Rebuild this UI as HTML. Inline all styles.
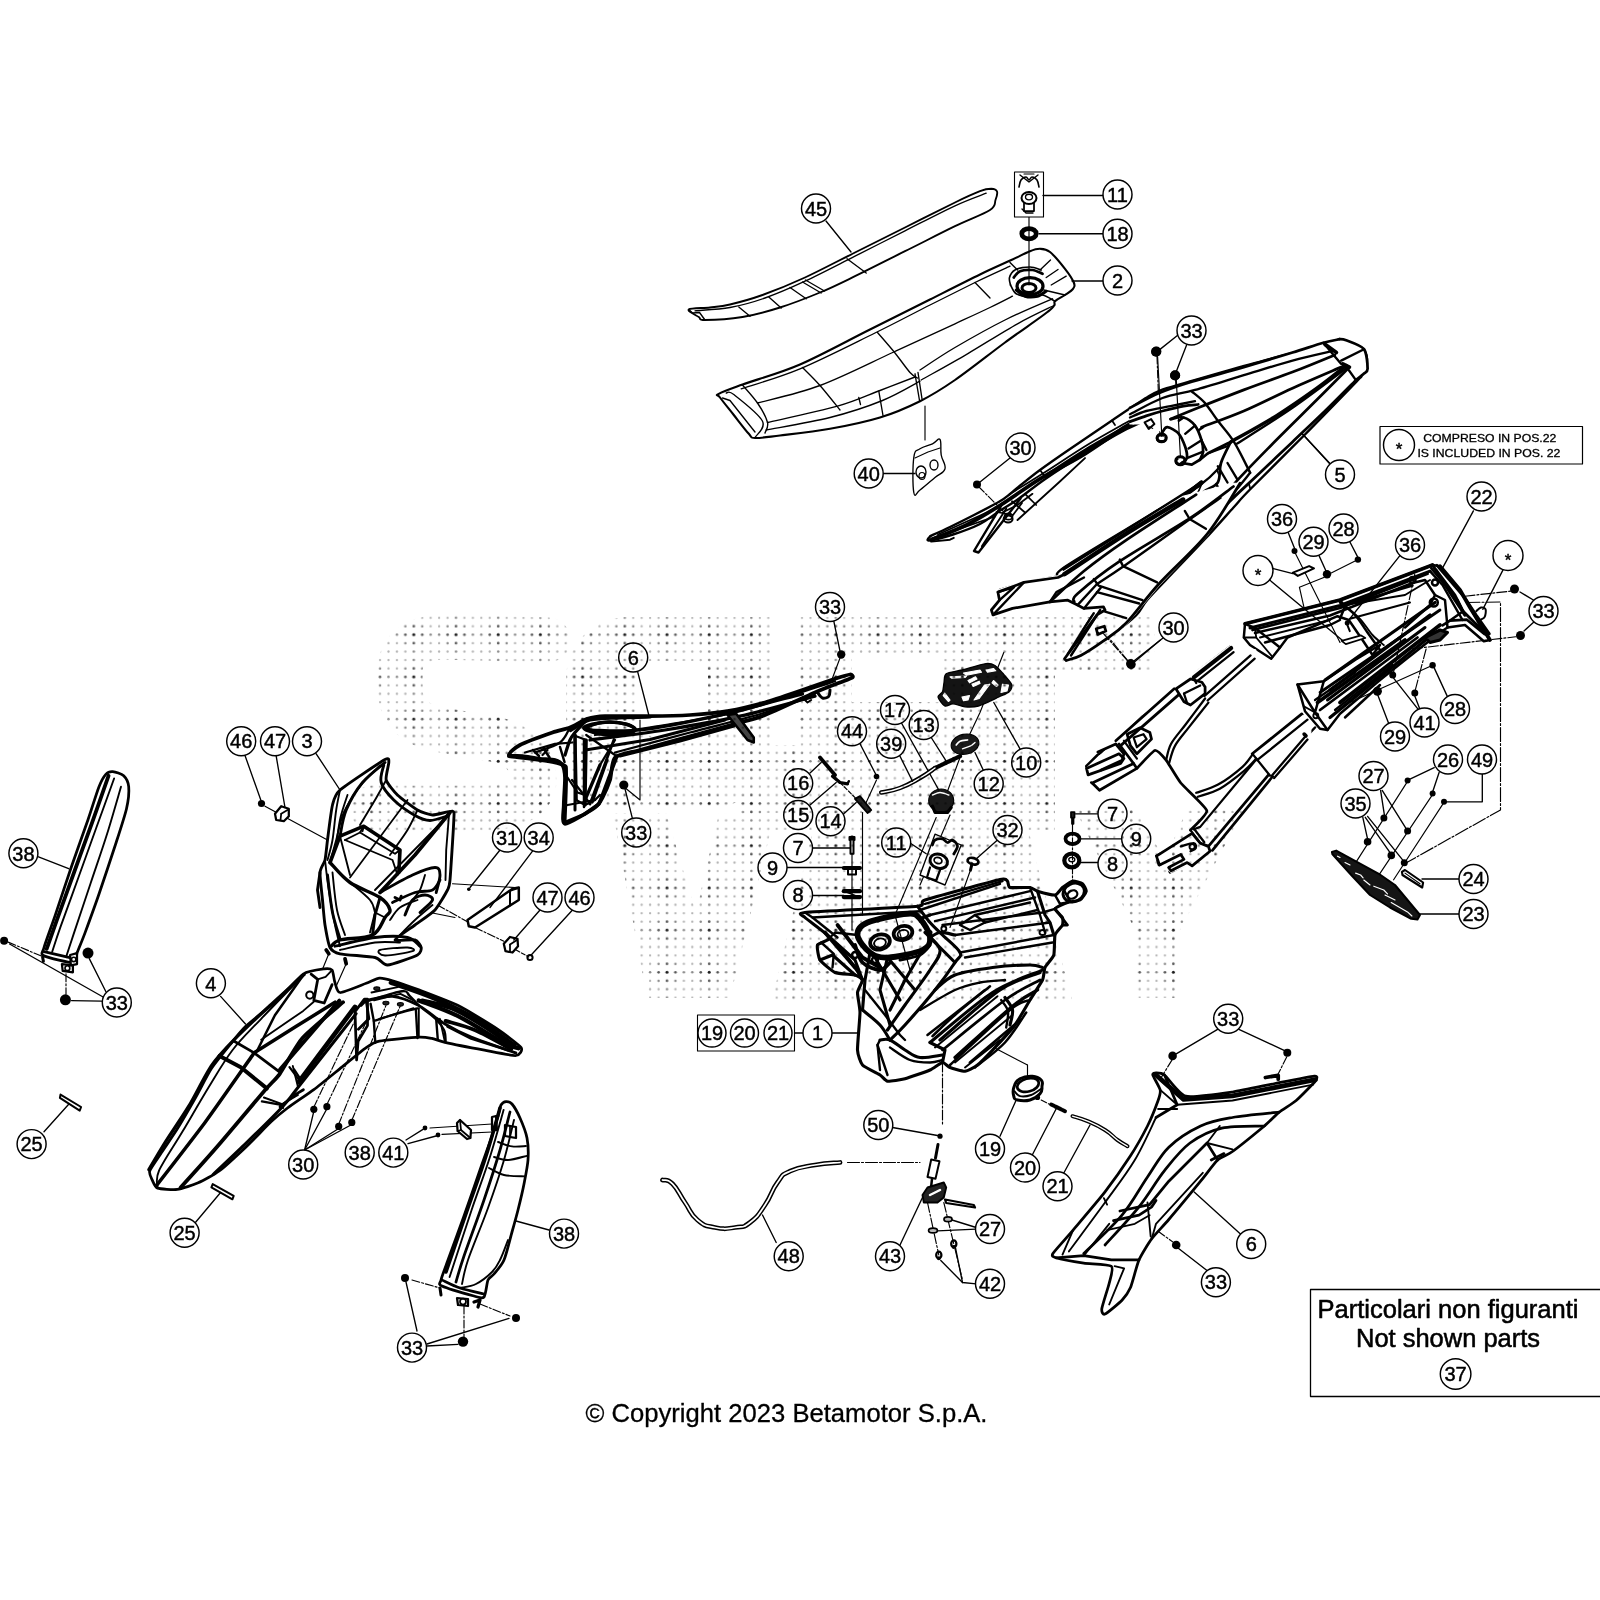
<!DOCTYPE html>
<html><head><meta charset="utf-8"><title>Parts diagram</title>
<style>html,body{margin:0;padding:0;background:#fff}body{width:1600px;height:1600px;overflow:hidden}</style></head>
<body>
<svg width="1600" height="1600" viewBox="0 0 1600 1600" style="display:block">
<g stroke-linecap="round" stroke-linejoin="round">
<defs><pattern id="dots" x="409.58" y="630.48" width="42.20" height="42.20" patternUnits="userSpaceOnUse"><circle cx="4.22" cy="4.22" r="1.5" fill="#1c1c1c"/><circle cx="4.22" cy="12.66" r="1.35" fill="#5a5a5a"/><circle cx="4.22" cy="21.10" r="1.25" fill="#8a8a8a"/><circle cx="4.22" cy="29.54" r="1.25" fill="#8a8a8a"/><circle cx="4.22" cy="37.98" r="1.35" fill="#5a5a5a"/><circle cx="12.66" cy="4.22" r="1.35" fill="#5a5a5a"/><circle cx="12.66" cy="12.66" r="1.25" fill="#8a8a8a"/><circle cx="12.66" cy="21.10" r="1.15" fill="#b4b4b4"/><circle cx="12.66" cy="29.54" r="1.15" fill="#b4b4b4"/><circle cx="12.66" cy="37.98" r="1.25" fill="#8a8a8a"/><circle cx="21.10" cy="4.22" r="1.25" fill="#8a8a8a"/><circle cx="21.10" cy="12.66" r="1.15" fill="#b4b4b4"/><circle cx="21.10" cy="21.10" r="1.15" fill="#b4b4b4"/><circle cx="21.10" cy="29.54" r="1.15" fill="#b4b4b4"/><circle cx="21.10" cy="37.98" r="1.15" fill="#b4b4b4"/><circle cx="29.54" cy="4.22" r="1.25" fill="#8a8a8a"/><circle cx="29.54" cy="12.66" r="1.15" fill="#b4b4b4"/><circle cx="29.54" cy="21.10" r="1.15" fill="#b4b4b4"/><circle cx="29.54" cy="29.54" r="1.15" fill="#b4b4b4"/><circle cx="29.54" cy="37.98" r="1.15" fill="#b4b4b4"/><circle cx="37.98" cy="4.22" r="1.35" fill="#5a5a5a"/><circle cx="37.98" cy="12.66" r="1.25" fill="#8a8a8a"/><circle cx="37.98" cy="21.10" r="1.15" fill="#b4b4b4"/><circle cx="37.98" cy="29.54" r="1.15" fill="#b4b4b4"/><circle cx="37.98" cy="37.98" r="1.25" fill="#8a8a8a"/></pattern>
<mask id="wm" maskUnits="userSpaceOnUse" x="340" y="590" width="960" height="480"><rect x="340" y="590" width="960" height="480" fill="#000"/><path d="M548 640 L440 637 Q400 640 400 672 L400 690 Q402 724 442 730 L498 740 Q534 750 534 782 Q530 808 480 808 L372 808" fill="none" stroke="#fff" stroke-width="45" stroke-linejoin="round"/><rect x="566" y="617" width="204" height="192" rx="62" ry="62" fill="#fff"/><rect x="700" y="617" width="70" height="120" fill="#fff"/><rect x="638" y="661" width="70" height="75" rx="14" fill="#000"/><polygon fill="#fff" points="613,813 666,813 696,913 719,813 775,813 730,998 647,998"/><polygon fill="#fff" points="800,617 1055,617 1055,830 800,830"/><polygon fill="#000" points="852,653 942,653 942,702 852,702"/><polygon fill="#fff" points="1055,617 1155,617 1155,671 1055,671"/><polygon fill="#fff" points="740,745 800,745 800,830 740,830"/><polygon fill="#fff" points="817,813 1024,813 1072,1000 772,1000"/><polygon fill="#fff" points="1075,809 1135,809 1165,860 1187,809 1244,809 1180,930 1180,998 1135,998 1135,930"/></mask></defs>
<path d="M688.8 309.5 C690.7 307.9 703.1 308.3 710 307.5 C716.9 306.7 721.2 306.6 730 304.5 C738.8 302.4 750.0 299.5 762.5 295 C775.0 290.5 789.6 284.6 805 277.5 C820.4 270.4 838.3 260.8 855 252.5 C871.7 244.2 888.3 235.8 905 227.5 C921.7 219.2 942.5 208.6 955 202.5 C967.5 196.4 974.0 193.5 980 191.2 C986.0 188.9 988.4 188.8 991.2 188.8 C994.0 188.9 996.3 189.6 997 191.5 C997.7 193.4 996.7 196.9 995.5 200 C994.3 203.1 996.8 205.6 990 210 C983.2 214.4 969.2 219.3 955 226.2 C940.8 233.1 921.7 242.9 905 251.2 C888.3 259.5 869.2 269.3 855 276.2 C840.8 283.1 832.5 287.3 820 292.5 C807.5 297.7 792.9 303.4 780 307.5 C767.1 311.6 755.0 314.9 742.5 317 C730.0 319.1 712.3 320.0 705 320 C697.7 320.0 701.5 318.8 698.8 317 C696.1 315.2 686.9 311.1 688.8 309.5 Z" fill="#fff" stroke="#000" stroke-width="1.88" />
<path d="M695 310.8 C700.8 310.2 718.3 309.6 730 307.5 C741.7 305.4 752.5 302.4 765 298 C777.5 293.6 790.0 288.2 805 281.2 C820.0 274.2 838.3 264.6 855 256.2 C871.7 247.8 888.3 239.2 905 230.8 C921.7 222.4 941.5 212.1 955 205.8 C968.5 199.5 981.0 195.3 986.2 193.2" fill="none" stroke="#000" stroke-width="1.35" />
<path d="M847 258.8 L866.2 273" fill="none" stroke="#000" stroke-width="1.35" />
<path d="M802.5 282 L821.2 293" fill="none" stroke="#000" stroke-width="1.35" />
<path d="M805.5 280 L824.5 291" fill="none" stroke="#000" stroke-width="1.35" />
<path d="M790 287.5 L806.2 298.8" fill="none" stroke="#000" stroke-width="1.35" />
<path d="M768.8 297 L781.2 308" fill="none" stroke="#000" stroke-width="1.35" />
<path d="M738.8 307 L750 316.2" fill="none" stroke="#000" stroke-width="1.35" />
<path d="M688.8 309.5 L692.5 313 L699.5 312.5 L705 320" fill="none" stroke="#000" stroke-width="1.35" />
<path d="M718.8 393.8 C722.5 391.6 729.0 389.4 742.5 384.5 C756.0 379.6 778.8 373.7 800 364.5 C821.2 355.3 848.3 340.3 870 329.5 C891.7 318.7 911.7 308.7 930 299.5 C948.3 290.3 966.2 281.2 980 274.5 C993.8 267.8 1004.2 263.4 1012.5 259.5 C1020.8 255.6 1025.4 253.0 1030 251.2 C1034.6 249.4 1036.7 248.7 1040 248.8 C1043.3 248.9 1045.8 248.7 1050 252 C1054.2 255.3 1061.0 263.7 1065 268.8 C1069.0 273.9 1072.5 279.2 1073.8 282.5 C1075.1 285.8 1074.5 286.7 1073 288.8 C1071.5 290.9 1068.0 292.9 1065 295 C1062.0 297.1 1057.5 298.7 1055 301.2 C1052.5 303.7 1058.3 303.1 1050 310 C1041.7 316.9 1020.8 330.8 1005 342.5 C989.2 354.2 969.2 370.2 955 380 C940.8 389.8 932.5 394.9 920 401.2 C907.5 407.4 895.0 412.9 880 417.5 C865.0 422.1 846.7 425.8 830 428.8 C813.3 431.8 792.5 434.0 780 435.5 C767.5 437.0 760.2 438.3 755 438 C749.8 437.7 752.3 437.6 748.8 433.8 C745.3 430.0 738.6 421.1 733.8 415 C729.0 408.9 722.5 401.0 720 397.5 C717.5 394.0 715.0 396.0 718.8 393.8 Z" fill="#fff" stroke="#000" stroke-width="2.12" />
<path d="M741.2 388.8 C751.0 385.5 777.7 378.1 800 368.8 C822.3 359.5 853.3 343.6 875 333 C896.7 322.4 913.3 313.4 930 305 C946.7 296.6 961.7 289.0 975 282.5 C988.3 276.0 1004.2 268.9 1010 266.2" fill="none" stroke="#000" stroke-width="1.35" />
<path d="M757.5 403 C767.9 400.1 797.3 394.0 820 385.5 C842.7 377.0 871.3 362.3 893.8 352 C916.3 341.7 939.0 331.2 955 323.8 C971.0 316.4 980.4 312.1 990 307.5 C999.6 302.9 1008.8 298.1 1012.5 296.2" fill="none" stroke="#000" stroke-width="1.35" />
<path d="M767.5 422.5 C779.2 419.8 818.8 411.5 837.5 406.2 C856.2 400.9 867.1 395.4 880 390.5 C892.9 385.6 909.2 379.2 915 377" fill="none" stroke="#000" stroke-width="1.35" />
<path d="M766.2 430 C776.8 427.9 810.6 422.4 830 417.5 C849.4 412.6 867.5 406.6 882.5 400.5 C897.5 394.4 913.8 384.4 920 381.2" fill="none" stroke="#000" stroke-width="1.35" />
<path d="M920 370 C925.8 366.2 940.8 355.8 955 347.5 C969.2 339.2 988.8 328.1 1005 320 C1021.2 311.9 1044.6 302.3 1052.5 298.8" fill="none" stroke="#000" stroke-width="1.35" />
<path d="M921.2 380 C928.9 375.6 951.5 363.2 967.5 353.8 C983.5 344.4 1002.9 331.9 1017.5 323.8 C1032.1 315.7 1048.8 308.1 1055 305" fill="none" stroke="#000" stroke-width="1.35" />
<path d="M877.5 332.5 C880.4 335.9 889.6 346.3 895 353 C900.4 359.7 906.2 368.3 910 372.5 C913.8 376.7 916.2 377.1 917.5 378" fill="none" stroke="#000" stroke-width="1.35" />
<path d="M802.5 367.5 C805.4 370.5 813.8 378.4 820 385.5 C826.2 392.6 836.7 405.9 840 410" fill="none" stroke="#000" stroke-width="1.35" />
<path d="M975 282.5 L990 298" fill="none" stroke="#000" stroke-width="1.35" />
<path d="M878.8 391.2 L883 415.5" fill="none" stroke="#000" stroke-width="1.35" />
<path d="M858.8 397.5 L860.5 404.5" fill="none" stroke="#000" stroke-width="1.35" />
<path d="M915 373.8 L919.5 400.5" fill="none" stroke="#000" stroke-width="1.35" />
<path d="M918 372.5 L922 398.8" fill="none" stroke="#000" stroke-width="1.35" />
<path d="M742.5 385 C745.0 388.0 753.3 396.8 757.5 403 C761.7 409.2 766.2 417.5 767.5 422.5 C768.8 427.5 765.4 431.2 765 433" fill="none" stroke="#000" stroke-width="1.35" />
<path d="M726.2 393 C727.5 393.2 727.8 389.8 733.8 394.5 C739.8 399.2 759.0 414.0 762.5 421.2 C766.0 428.4 756.2 434.8 755 437.5" fill="none" stroke="#000" stroke-width="1.35" />
<path d="M722.5 398 L730 400.5 L755 432" fill="none" stroke="#000" stroke-width="1.35" />
<path d="M1010.5 285 C1010.3 283.8 1008.8 280.0 1009.5 277.5 C1010.2 275.0 1011.6 271.8 1015 270 C1018.4 268.2 1025.6 267.0 1030 267 C1034.4 267.0 1039.3 269.5 1041.2 270" fill="none" stroke="#000" stroke-width="1.62" />
<path d="M1010.5 285 C1011.5 286.5 1013.0 291.8 1016.2 293.8 C1019.5 295.8 1025.6 296.8 1030 297 C1034.4 297.2 1038.3 294.3 1042.5 295 C1046.7 295.7 1052.9 300.2 1055 301.2" fill="none" stroke="#000" stroke-width="1.62" />
<ellipse cx="1030.0" cy="286.2" rx="13" ry="8.5" fill="none" stroke="#000" stroke-width="3.25"/>
<path d="M1013.8 277.5 C1014.8 276.4 1016.9 272.4 1020 271.2 C1023.1 269.9 1028.8 269.6 1032.5 270 C1036.2 270.4 1040.8 273.2 1042.5 273.8" fill="none" stroke="#000" stroke-width="2.75" />
<path d="M1016.2 290 C1017.7 291.0 1021.5 295.2 1025 296.2 C1028.5 297.2 1034.0 297.0 1037.5 296.2 C1041.0 295.4 1044.8 292.0 1046.2 291.2" fill="none" stroke="#000" stroke-width="3.0" />
<ellipse cx="1029.0" cy="288.0" rx="7" ry="4.5" fill="none" stroke="#000" stroke-width="3.0"/>
<path d="M1040 270 L1050.5 260" fill="none" stroke="#000" stroke-width="1.35" />
<path d="M1046.2 277.5 L1058 269.5" fill="none" stroke="#000" stroke-width="1.35" />
<path d="M1051.2 285 L1066.2 276.2" fill="none" stroke="#000" stroke-width="1.35" />
<path d="M1043.8 290 L1065 295" fill="none" stroke="#000" stroke-width="1.35" />
<path d="M1017.5 270 L1010 262.5" fill="none" stroke="#000" stroke-width="1.35" />
<line x1="1029" y1="217" x2="1029" y2="285" stroke="#000" stroke-width="1.15"/>
<rect x="1014.5" y="172" width="29" height="45" fill="#fff" stroke="#000" stroke-width="1.1"/>
<path d="M1019 187 C1019.3 185.8 1019.8 181.7 1021 180 C1022.2 178.3 1024.7 177.0 1026 177 C1027.3 177.0 1028.0 180.0 1029 180 C1030.0 180.0 1030.7 177.0 1032 177 C1033.3 177.0 1035.8 178.3 1037 180 C1038.2 181.7 1038.7 185.8 1039 187" fill="none" stroke="#000" stroke-width="1.62" />
<path d="M1020 175 L1029 182 L1038 175" fill="none" stroke="#000" stroke-width="1.35" />
<path d="M1024 174 L1034 174" fill="none" stroke="#000" stroke-width="1.15" />
<ellipse cx="1029" cy="198" rx="7.5" ry="6" fill="none" stroke="#000" stroke-width="2.0"/>
<ellipse cx="1029" cy="197" rx="3.5" ry="2.8" fill="none" stroke="#000" stroke-width="1.35"/>
<path d="M1024 203 L1024 211 L1034 211 L1034 203" fill="none" stroke="#000" stroke-width="1.75" />
<path d="M1022 209 L1026 213 L1033 213" fill="none" stroke="#000" stroke-width="1.35" />
<ellipse cx="1029" cy="233.7" rx="7.2" ry="5.2" fill="none" stroke="#000" stroke-width="4.75"/>
<line x1="1043" y1="195.5" x2="1103" y2="195.5" stroke="#000" stroke-width="1.35"/>
<line x1="1039" y1="233.7" x2="1103" y2="233.7" stroke="#000" stroke-width="1.35"/>
<line x1="1072" y1="281" x2="1103" y2="281" stroke="#000" stroke-width="1.35"/>
<line x1="826" y1="221" x2="851" y2="252" stroke="#000" stroke-width="1.35"/>
<line x1="925" y1="406" x2="925" y2="440" stroke="#000" stroke-width="1.15"/>
<path d="M913.8 457.5 C915.0 448.8 916.3 451.5 920 448.8 C923.7 446.1 928.5 445.7 932.5 443.8 C936.5 441.9 938.3 437.3 940 439.5 C941.7 441.7 940.2 449.1 941.2 455 C942.2 460.9 946.2 464.3 945 468.8 C943.8 473.3 940.0 473.3 935 477.5 C930.0 481.7 924.2 487.0 920 490 C915.8 493.0 915.0 499.0 913.8 492.5 C912.6 486.0 912.6 466.2 913.8 457.5 Z" fill="#fff" stroke="#000" stroke-width="1.35" />
<ellipse cx="921" cy="472" rx="5" ry="6" fill="none" stroke="#000" stroke-width="1.35"/>
<ellipse cx="934" cy="465" rx="4" ry="5" fill="none" stroke="#000" stroke-width="1.35"/>
<ellipse cx="922" cy="476" rx="3" ry="3.5" fill="none" stroke="#000" stroke-width="1.15"/>
<path d="M915 458 L928 452 L940 448" fill="none" stroke="#000" stroke-width="1.15" />
<line x1="883.5" y1="473.5" x2="915" y2="473.5" stroke="#000" stroke-width="1.35"/>
<path d="M1325 344.6 C1327.7 343.6 1334.0 340.4 1338.5 339.8 C1343.0 339.2 1342.5 339.7 1347.5 341.6 C1352.5 343.5 1359.5 345.0 1363.4 349.4 C1367.3 353.8 1367.5 358.0 1367 363.5 C1366.5 369.0 1362.2 374.3 1361 377" fill="none" stroke="#000" stroke-width="2.38" />
<path d="M1325 344.6 L1335.5 351.5 L1346 365 L1352 377.6" fill="none" stroke="#000" stroke-width="1.75" />
<path d="M1335.5 351.5 L1363.4 349.4" fill="none" stroke="#000" stroke-width="1.75" />
<path d="M1346 365 L1366.4 362" fill="none" stroke="#000" stroke-width="1.75" />
<path d="M1325 344.6 C1312.5 347.9 1272.5 358.2 1250 364.4 C1227.5 370.5 1205.0 377.1 1190 381.5 C1175.0 385.9 1167.5 387.6 1160 390.5 C1152.5 393.4 1153.0 393.6 1145 398.6 C1137.0 403.6 1124.5 412.1 1112 420.5 C1099.5 428.9 1082.0 440.8 1070 449 C1058.0 457.2 1048.5 463.8 1040 470 C1031.5 476.2 1024.0 482.5 1019 486.5 C1014.0 490.5 1013.2 491.5 1010 494 C1006.8 496.5 1005.5 498.0 999.5 501.5 C993.5 505.0 982.2 510.8 974 515 C965.8 519.2 957.2 523.5 950 527 C942.8 530.5 933.8 534.5 930.5 536" fill="none" stroke="#000" stroke-width="2.38" />
<path d="M1328 350 C1315.0 353.5 1273.0 364.6 1250 371 C1227.0 377.4 1205.0 383.9 1190 388.4 C1175.0 392.9 1167.8 394.9 1160 398 C1152.2 401.1 1146.2 405.5 1143.5 407" fill="none" stroke="#000" stroke-width="1.75" />
<path d="M1337 359 C1325.0 363.2 1284.5 377.5 1265 384.5 C1245.5 391.5 1231.0 396.8 1220 401 C1209.0 405.2 1202.5 408.5 1199 410" fill="none" stroke="#000" stroke-width="1.75" />
<path d="M1340 365 C1330.0 369.5 1298.0 383.5 1280 392 C1262.0 400.5 1244.5 409.9 1232 416 C1219.5 422.1 1209.5 426.5 1205 428.6" fill="none" stroke="#000" stroke-width="1.75" />
<path d="M930.5 536 C930.2 536.8 925.2 540.8 929 540.5 C932.8 540.2 944.5 537.2 953 534.5 C961.5 531.8 972.5 527.8 980 524 C987.5 520.2 991.5 516.2 998 512 C1004.5 507.8 1011.0 504.1 1019 498.5 C1027.0 492.9 1034.5 486.2 1046 478.4 C1057.5 470.5 1075.0 459.4 1088 451.4 C1101.0 443.4 1114.0 435.8 1124 430.4 C1134.0 425.0 1142.0 422.4 1148 419 C1154.0 415.6 1154.0 412.0 1160 410 C1166.0 408.0 1180.0 407.5 1184 407" fill="none" stroke="#000" stroke-width="2.38" />
<path d="M1046 476 C1053.0 471.5 1074.0 457.5 1088 449 C1102.0 440.5 1123.0 429.0 1130 425" fill="none" stroke="#000" stroke-width="4.0" />
<path d="M1010 494 C1016.0 490.2 1033.0 479.8 1046 471.5 C1059.0 463.2 1074.0 453.0 1088 444.5 C1102.0 436.0 1120.0 426.2 1130 420.5 C1140.0 414.8 1145.0 411.8 1148 410" fill="none" stroke="#000" stroke-width="1.75" />
<path d="M1002.5 503.6 L974 551 L978.5 552.5 L1020.5 498.5" fill="none" stroke="#000" stroke-width="2.38" />
<path d="M932 538.4 L995 516.5" fill="none" stroke="#000" stroke-width="1.75" />
<path d="M938 534.5 L998 507.5" fill="none" stroke="#000" stroke-width="1.75" />
<ellipse cx="1008.5" cy="516.5" rx="4" ry="3.2" fill="none" stroke="#000" stroke-width="1.75"/>
<path d="M996.5 512 L1013 515 L1022 503" fill="none" stroke="#000" stroke-width="1.75" />
<path d="M1145 398.6 L1160 410" fill="none" stroke="#000" stroke-width="1.75" />
<path d="M1112 420.5 L1115 425" fill="none" stroke="#000" stroke-width="1.75" />
<path d="M1040 470 L1044.5 476" fill="none" stroke="#000" stroke-width="1.75" />
<path d="M1208 377 L1223 402.5" fill="none" stroke="#000" stroke-width="1.75" />
<path d="M1190 381.5 L1244 452" fill="none" stroke="#000" stroke-width="1.75" />
<path d="M1161.5 435.5 C1162.0 434.0 1162.2 429.0 1164.5 426.5 C1166.8 424.0 1171.5 420.8 1175 420.5 C1178.5 420.2 1183.0 421.8 1185.5 425 C1188.0 428.2 1189.5 435.0 1190 440 C1190.5 445.0 1190.0 451.1 1188.5 455 C1187.0 458.9 1182.2 462.0 1181 463.4" fill="none" stroke="#000" stroke-width="2.38" />
<path d="M1175 416 C1177.5 415.6 1185.5 412.4 1190 413.6 C1194.5 414.9 1199.2 419.1 1202 423.5 C1204.8 427.9 1206.2 434.8 1206.5 440 C1206.8 445.2 1204.0 452.5 1203.5 455" fill="none" stroke="#000" stroke-width="2.38" />
<path d="M1167.5 432.5 C1168.8 431.5 1172.8 426.8 1175 426.5 C1177.2 426.2 1179.5 427.8 1181 431 C1182.5 434.2 1184.0 441.5 1184 446 C1184.0 450.5 1181.5 456.0 1181 458" fill="none" stroke="#000" stroke-width="1.75" />
<path d="M1203.5 455 L1232 444.5 L1233.5 440 L1220 419" fill="none" stroke="#000" stroke-width="2.38" />
<path d="M1190 413.6 L1217 407" fill="none" stroke="#000" stroke-width="1.75" />
<path d="M1181 463.4 L1203.5 455" fill="none" stroke="#000" stroke-width="1.75" />
<path d="M1148 420.5 L1152.5 428 L1148 425" fill="none" stroke="#000" stroke-width="1.75" />
<ellipse cx="1161.5" cy="438.5" rx="4.5" ry="3.5" fill="none" stroke="#000" stroke-width="2.5"/>
<ellipse cx="1180.4" cy="461.6" rx="4.5" ry="3.5" fill="none" stroke="#000" stroke-width="2.5"/>
<path d="M1361 377 C1351.5 386.8 1322.5 416.8 1304 435.5 C1285.5 454.2 1261.8 477.5 1250 489.5 C1238.2 501.5 1241.0 499.2 1233.5 507.5 C1226.0 515.8 1214.8 528.5 1205 539 C1195.2 549.5 1184.5 560.5 1175 570.5 C1165.5 580.5 1154.5 591.5 1148 599 C1141.5 606.5 1141.5 610.0 1136 615.5 C1130.5 621.0 1123.0 626.8 1115 632 C1107.0 637.2 1096.5 642.5 1088 647 C1079.5 651.5 1068.0 657.0 1064 659" fill="none" stroke="#000" stroke-width="2.38" />
<path d="M1352 369.5 C1343.5 377.8 1319.0 402.2 1301 419 C1283.0 435.8 1257.5 457.0 1244 470 C1230.5 483.0 1227.0 490.0 1220 497 C1213.0 504.0 1208.0 506.5 1202 512 C1196.0 517.5 1187.0 527.0 1184 530" fill="none" stroke="#000" stroke-width="1.75" />
<path d="M1340 365 C1332.5 370.5 1312.0 385.5 1295 398 C1278.0 410.5 1248.5 431.5 1238 440 C1227.5 448.5 1234.5 445.5 1232 449 C1229.5 452.5 1225.5 457.5 1223 461 C1220.5 464.5 1220.5 466.2 1217 470 C1213.5 473.8 1209.0 478.5 1202 483.5 C1195.0 488.5 1187.0 492.8 1175 500 C1163.0 507.2 1148.5 515.8 1130 527 C1111.5 538.2 1076.0 559.2 1064 567.5 C1052.0 575.8 1059.0 575.0 1058 576.5" fill="none" stroke="#000" stroke-width="2.38" />
<path d="M1064 569 C1075.0 562.2 1107.5 542.5 1130 528.5 C1152.5 514.5 1187.5 492.2 1199 485" fill="none" stroke="#000" stroke-width="4.0" />
<path d="M1058 576.5 L1023.5 582.5 L999.5 590 L992 612.5 L1002.5 608.6 L1019 602 L1052 599 L1073 593 L1079 602 L1106 608 L1092.5 615.5 L1064 659 L1070 657.5 L1100 638 L1115 632" fill="none" stroke="#000" stroke-width="2.38" />
<path d="M999.5 590 L1007 599 L992 612.5" fill="none" stroke="#000" stroke-width="1.75" />
<path d="M1023.5 582.5 L1019 602" fill="none" stroke="#000" stroke-width="1.75" />
<path d="M1007 599 L1055 590 L1076 581 L1100 566" fill="none" stroke="#000" stroke-width="1.75" />
<path d="M1184 512 L1205 527" fill="none" stroke="#000" stroke-width="1.75" />
<path d="M1118 560 L1127 570.5" fill="none" stroke="#000" stroke-width="1.75" />
<path d="M1127 570.5 L1154 578" fill="none" stroke="#000" stroke-width="1.75" />
<path d="M1097 584 L1145 599" fill="none" stroke="#000" stroke-width="1.75" />
<path d="M1100 590 L1142 605" fill="none" stroke="#000" stroke-width="1.75" />
<path d="M1238 440 L1250 488" fill="none" stroke="#000" stroke-width="1.75" />
<path d="M1217 470 L1229 500" fill="none" stroke="#000" stroke-width="1.75" />
<path d="M1202 483.5 C1199.0 488.2 1198.0 499.2 1184 512 C1170.0 524.8 1132.5 548.0 1118 560 C1103.5 572.0 1104.0 578.2 1097 584 C1090.0 589.8 1079.5 592.8 1076 594.5" fill="none" stroke="#000" stroke-width="1.75" />
<path d="M1220 497 C1210.0 507.5 1175.0 543.0 1160 560 C1145.0 577.0 1139.0 591.0 1130 599 C1121.0 607.0 1110.0 606.5 1106 608" fill="none" stroke="#000" stroke-width="1.75" />
<ellipse cx="1103.0" cy="630.5" rx="4.5" ry="3.5" fill="none" stroke="#000" stroke-width="2.0" transform="rotate(-30 1103.0 630.5)"/>
<circle cx="1156.4" cy="351.5" r="5" fill="#000"/>
<circle cx="1175.0" cy="375.5" r="5" fill="#000"/>
<line x1="1157.0" y1="356.0" x2="1160.0" y2="435.5" stroke="#000" stroke-width="1.15" stroke-dasharray="8 2 2 2"/>
<line x1="1175.6" y1="380.0" x2="1180.4" y2="458.0" stroke="#000" stroke-width="1.15" stroke-dasharray="8 2 2 2"/>
<line x1="1178.0" y1="335.0" x2="1160.0" y2="349.4" stroke="#000" stroke-width="1.35"/>
<line x1="1187.0" y1="344.0" x2="1176.5" y2="371.0" stroke="#000" stroke-width="1.35"/>
<circle cx="977.0" cy="484.4" r="4" fill="#000"/>
<line x1="1010.0" y1="458.0" x2="980.0" y2="482.0" stroke="#000" stroke-width="1.35"/>
<line x1="978.5" y1="486.5" x2="1007.0" y2="515.0" stroke="#000" stroke-width="1.15" stroke-dasharray="8 2 2 2"/>
<circle cx="1130.6" cy="663.5" r="4.5" fill="#000"/>
<line x1="1163.0" y1="638.0" x2="1134.5" y2="660.5" stroke="#000" stroke-width="1.35"/>
<line x1="1104.5" y1="632.6" x2="1128.5" y2="661.4" stroke="#000" stroke-width="1.15" stroke-dasharray="8 2 2 2"/>
<line x1="1302.5" y1="434.0" x2="1330.4" y2="464.0" stroke="#000" stroke-width="1.35"/>
<path d="M931.2 539.7 C937.2 537.2 955.3 530.5 966.9 524.7 C978.5 518.9 988.4 512.6 1000.6 505 C1012.8 497.4 1026.6 486.9 1040 478.8 C1053.4 470.7 1066.8 465.0 1081.2 456.2 C1095.6 447.4 1115.6 432.8 1126.2 426.2 C1136.8 419.6 1141.9 418.4 1145 416.9" fill="none" stroke="#000" stroke-width="3.75" />
<path d="M1017.5 520 L1058.8 482.5 L1085 458.1" fill="none" stroke="#000" stroke-width="1.88" />
<path d="M1006.2 508.8 L981.9 546.2" fill="none" stroke="#000" stroke-width="1.88" />
<path d="M1011.9 501.2 L1025 512.5" fill="none" stroke="#000" stroke-width="1.75" />
<path d="M1025 493.8 L1036.2 505" fill="none" stroke="#000" stroke-width="1.75" />
<path d="M1002.5 512.5 L1017.5 505 L1032.5 493.8" fill="none" stroke="#000" stroke-width="1.75" />
<ellipse cx="1008.1" cy="519.1" rx="4.5" ry="3.5" fill="none" stroke="#000" stroke-width="2.0"/>
<path d="M931.2 541.6 L950 539.7 L953.8 537.8" fill="none" stroke="#000" stroke-width="1.88" />
<path d="M1062.5 575.3 C1070.0 570.6 1092.2 557.5 1107.5 547.2 C1122.8 536.9 1142.5 521.4 1154.4 513.4 C1166.3 505.4 1171.0 504.5 1178.8 499.4 C1186.6 494.2 1197.5 485.3 1201.2 482.5" fill="none" stroke="#000" stroke-width="3.75" />
<path d="M1130 407.8 L1159.2 393.1 L1191.8 381.8 L1243.8 367.1 L1292.5 352.5 L1323.4 342.8 L1339.6 339.2 L1346.1 340.3 L1364 349.2 L1367.6 368.8 L1364 373.6 L1355.9 380.1 L1325 411 L1292.5 441.9 L1260 472.8 L1227.5 503.6 L1214.5 520 L1146.2 520 L1183.6 510.1 L1203.1 492.2 L1217.8 482.5 L1221 463 L1230.8 441.9 L1208 453.2 L1199.9 459.8 L1191.8 464.6 L1182 463 L1172.2 450 L1162.5 432.1 L1146.2 424 L1130 424 Z" fill="#fff" stroke="#fff" stroke-width="1.15" />
<path d="M1130 407.8 C1134.9 405.4 1148.9 397.4 1159.2 393.1 C1169.5 388.8 1177.7 386.1 1191.8 381.8 C1205.9 377.5 1227.0 372.0 1243.8 367.1 C1260.6 362.2 1279.2 356.6 1292.5 352.5 C1305.8 348.4 1315.6 345.0 1323.4 342.8 C1331.2 340.6 1336.9 339.8 1339.6 339.2" fill="none" stroke="#000" stroke-width="2.75" />
<path d="M1339.6 339.2 C1340.5 339.3 1342.8 339.0 1346.1 340.3 C1349.4 341.6 1361.1 345.4 1364 349.2 C1366.9 353.0 1367.6 365.5 1367.6 368.8 C1367.6 372.1 1365.6 372.1 1364 373.6 C1362.4 375.1 1357.0 379.2 1355.9 380.1" fill="none" stroke="#000" stroke-width="2.75" />
<path d="M1130 414.2 C1135.4 411.5 1151.7 402.1 1162.5 398 C1173.3 393.9 1181.5 393.7 1195 389.9 C1208.5 386.1 1227.5 380.1 1243.8 375.2 C1260.0 370.3 1277.6 364.7 1292.5 360.6 C1307.4 356.6 1326.3 352.5 1333.1 350.9" fill="none" stroke="#000" stroke-width="2.38" />
<path d="M1191.8 391.5 C1194.0 393.4 1200.5 398.0 1204.8 402.9 C1209.1 407.8 1212.9 414.3 1217.8 420.8 C1222.7 427.3 1228.6 433.2 1234 441.9 C1239.4 450.6 1247.5 467.6 1250.2 472.8" fill="none" stroke="#000" stroke-width="2.38" />
<path d="M1170.6 419.1 C1175.2 417.2 1186.0 412.7 1198.2 407.8 C1210.4 402.9 1228.1 395.9 1243.8 389.9 C1259.5 383.9 1277.3 377.8 1292.5 372 C1307.7 366.2 1327.8 357.8 1334.8 354.9" fill="none" stroke="#000" stroke-width="2.75" />
<path d="M1201.5 427.2 C1208.5 424.5 1228.6 417.5 1243.8 411 C1259.0 404.5 1276.3 395.5 1292.5 388.2 C1308.7 380.9 1333.1 370.6 1341.2 367.1" fill="none" stroke="#000" stroke-width="2.75" />
<path d="M1230.8 441.9 C1238.4 437.6 1261.8 424.8 1276.2 415.9 C1290.6 406.9 1305.2 396.6 1316.9 388.2 C1328.6 379.8 1341.2 369.3 1346.1 365.5" fill="none" stroke="#000" stroke-width="3.5" />
<path d="M1237.2 443.5 C1246.4 437.6 1274.1 420.5 1292.5 407.8 C1310.9 395.1 1338.6 373.9 1347.8 367.1" fill="none" stroke="#000" stroke-width="2.38" />
<path d="M1355.9 380.1 C1350.8 385.2 1335.6 400.7 1325 411 C1314.4 421.3 1303.3 431.6 1292.5 441.9 C1281.7 452.2 1270.8 462.5 1260 472.8 C1249.2 483.1 1235.1 495.7 1227.5 503.6 C1219.9 511.5 1216.7 517.3 1214.5 520" fill="none" stroke="#000" stroke-width="2.75" />
<path d="M1347.8 368.8 C1341.3 375.3 1322.1 394.5 1308.8 407.8 C1295.5 421.1 1280.6 435.7 1268.1 448.4 C1255.6 461.1 1241.3 475.7 1234 484.1 C1226.7 492.5 1225.8 496.4 1224.2 498.8" fill="none" stroke="#000" stroke-width="2.75" />
<path d="M1323.4 342.8 L1331.5 352.5 L1341.2 363.9 L1347.8 368.8 L1355.9 380.1" fill="none" stroke="#000" stroke-width="2.38" />
<path d="M1341.2 360.6 L1364 349.2" fill="none" stroke="#000" stroke-width="2.38" />
<path d="M1325 344.4 L1336.4 352.5" fill="none" stroke="#000" stroke-width="3.75" />
<path d="M1342.9 363.9 L1349.4 367.1" fill="none" stroke="#000" stroke-width="3.75" />
<path d="M1162.5 432.1 C1163.3 431.3 1164.7 426.9 1167.4 427.2 C1170.1 427.5 1175.8 430.5 1178.8 433.8 C1181.8 437.1 1183.8 442.8 1185.2 446.8 C1186.6 450.9 1187.4 455.4 1186.9 458.1 C1186.4 460.8 1182.8 462.2 1182 463" fill="none" stroke="#000" stroke-width="2.75" />
<path d="M1170.6 419.1 C1172.8 418.8 1179.5 416.4 1183.6 417.5 C1187.7 418.6 1192.0 421.8 1195 425.6 C1198.0 429.4 1200.2 435.9 1201.5 440.2 C1202.8 444.5 1203.4 448.3 1203.1 451.6 C1202.8 454.9 1200.4 458.4 1199.9 459.8" fill="none" stroke="#000" stroke-width="2.75" />
<path d="M1199.9 459.8 L1208 453.2 L1227.5 443.5 L1230.8 441.9" fill="none" stroke="#000" stroke-width="2.75" />
<path d="M1182 463 L1191.8 464.6 L1199.9 459.8" fill="none" stroke="#000" stroke-width="2.75" />
<path d="M1183.6 417.5 L1178.8 420.8" fill="none" stroke="#000" stroke-width="2.38" />
<path d="M1195 425.6 L1185.2 433.8" fill="none" stroke="#000" stroke-width="2.38" />
<path d="M1201.5 440.2 L1188.5 448.4" fill="none" stroke="#000" stroke-width="2.38" />
<path d="M1203.1 451.6 L1186.9 458.1" fill="none" stroke="#000" stroke-width="2.38" />
<path d="M1201.5 440.2 L1206.4 450" fill="none" stroke="#000" stroke-width="2.38" />
<path d="M1198.2 430.5 L1203.1 427.2" fill="none" stroke="#000" stroke-width="2.38" />
<ellipse cx="1161.7" cy="437.8" rx="4.6" ry="3.8" fill="none" stroke="#000" stroke-width="3.0"/>
<ellipse cx="1180.4" cy="460.6" rx="4.6" ry="3.8" fill="none" stroke="#000" stroke-width="3.0"/>
<path d="M1230.8 441.9 C1229.2 445.4 1223.2 456.2 1221 463 C1218.8 469.8 1220.8 477.6 1217.8 482.5 C1214.8 487.4 1208.8 487.6 1203.1 492.2 C1197.4 496.8 1186.8 507.1 1183.6 510.1" fill="none" stroke="#000" stroke-width="2.75" />
<path d="M1250.2 472.8 C1247.5 476.0 1238.3 487.9 1234 492.2 C1229.7 496.5 1225.8 497.7 1224.2 498.8" fill="none" stroke="#000" stroke-width="2.38" />
<path d="M1217.8 466.2 L1227.5 482.5" fill="none" stroke="#000" stroke-width="2.38" />
<path d="M1227.5 463 L1237.2 479.2" fill="none" stroke="#000" stroke-width="2.38" />
<path d="M1216.1 484.1 L1227.5 502" fill="none" stroke="#000" stroke-width="2.38" />
<path d="M1146.2 520 L1178.8 500.4 L1201.5 482.5" fill="none" stroke="#000" stroke-width="4.25" />
<path d="M1130 417.5 C1132.7 416.4 1139.4 412.9 1146.2 411 C1153.0 409.1 1162.5 407.7 1170.6 406.1 C1178.7 404.5 1190.9 402.0 1195 401.2" fill="none" stroke="#000" stroke-width="2.38" />
<path d="M1144.6 422.4 L1151.1 419.1 L1154.4 424 L1148.7 428.9 Z" fill="none" stroke="#000" stroke-width="2.0" />
<path d="M1130 421.6 C1132.7 420.7 1140.8 417.7 1146.2 415.9 C1151.6 414.1 1156.3 412.6 1162.5 411 C1168.7 409.4 1177.6 407.2 1183.6 406.1 C1189.5 405.0 1195.8 404.8 1198.2 404.5" fill="none" stroke="#000" stroke-width="2.75" />
<circle cx="1156.0" cy="351.7" r="5" fill="#000"/>
<circle cx="1175.2" cy="375.2" r="5" fill="#000"/>
<line x1="1157.6" y1="356.6" x2="1161.7" y2="433.8" stroke="#000" stroke-width="1.15"/>
<line x1="1176.3" y1="380.1" x2="1180.4" y2="456.5" stroke="#000" stroke-width="1.15"/>
<line x1="1302.2" y1="433.8" x2="1329.1" y2="463.0" stroke="#000" stroke-width="1.35"/>
<path d="M1064.5 571 L1183.1 496.2 L1233.5 483.2 L1240 483.2 L1207.5 535.2 L1158.8 585.6 L1126.2 624.6 L1103.5 642.5 L1080.8 657.1 L1066.1 662 L1061.2 658.8 L1093.8 614.9 L1077.5 608.4 L1049.9 605.1 L993 616.5 L989.8 610 L996.2 590.5 L1023.9 580.8 L1058 575.9 Z" fill="#fff" stroke="#fff" stroke-width="1.15" />
<path d="M1240 483.2 C1234.6 491.6 1221.0 516.8 1207.5 533.6 C1194.0 550.4 1172.3 569.1 1158.8 584 C1145.2 598.9 1135.4 613.5 1126.2 623 C1117.0 632.5 1111.1 635.5 1103.5 640.9 C1095.9 646.3 1087.0 652.2 1080.8 655.5 C1074.6 658.8 1068.5 659.6 1066.1 660.4" fill="none" stroke="#000" stroke-width="2.75" />
<path d="M1183.1 499.5 C1173.6 505.2 1146.0 521.1 1126.2 533.6 C1106.4 546.1 1074.8 567.4 1064.5 574.2" fill="none" stroke="#000" stroke-width="4.5" />
<path d="M1196.1 494.6 C1184.4 502.2 1144.9 527.4 1126.2 540.1 C1107.5 552.8 1096.7 560.7 1084 571 C1071.3 581.3 1055.6 596.8 1049.9 601.9" fill="none" stroke="#000" stroke-width="2.75" />
<path d="M1233.5 486.5 C1226.5 491.6 1210.2 504.9 1191.2 517.4 C1172.2 529.9 1138.8 548.5 1119.8 561.2 C1100.8 573.9 1085.1 587.0 1077.5 593.8 C1069.9 600.6 1074.8 600.5 1074.2 601.9" fill="none" stroke="#000" stroke-width="2.75" />
<path d="M1220.5 497.9 C1215.1 501.7 1203.7 509.5 1188 520.6 C1172.3 531.7 1141.4 553.9 1126.2 564.5 C1111.0 575.1 1101.9 580.8 1097 584" fill="none" stroke="#000" stroke-width="2.38" />
<path d="M1184.8 510.9 L1189.6 519 L1205.9 528.8" fill="none" stroke="#000" stroke-width="2.38" />
<path d="M1119.8 559.6 L1123 566.1 L1157.1 582.4" fill="none" stroke="#000" stroke-width="2.38" />
<path d="M1093.8 579.1 L1098.6 585.6 L1142.5 600.2" fill="none" stroke="#000" stroke-width="2.38" />
<path d="M1097 592.1 L1139.2 603.5" fill="none" stroke="#000" stroke-width="2.38" />
<path d="M1105.1 611.6 L1126.2 618.1" fill="none" stroke="#000" stroke-width="2.38" />
<path d="M1064.5 574.2 L1058 577.5 L1023.9 582.4 L997.9 592.1 L999.5 600.2 L991.4 610 L993 614.9 L1012.5 608.4 L1049.9 601.9 L1067.8 600.2 L1077.5 605.1 L1084 608.4 L1103.5 606.8 L1105.1 610 L1097 614.9 L1064.5 658.8 L1066.1 660.4" fill="none" stroke="#000" stroke-width="2.75" />
<path d="M1100.2 610 L1071 655.5" fill="none" stroke="#000" stroke-width="2.38" />
<path d="M1093.8 613.2 L1067.8 653.9" fill="none" stroke="#000" stroke-width="2.38" />
<path d="M997.9 592.1 L1014.1 587.2 L999.5 600.2" fill="none" stroke="#000" stroke-width="2.38" />
<path d="M1023.9 582.4 L993 614.9" fill="none" stroke="#000" stroke-width="2.38" />
<path d="M1049.9 601.9 L1056.4 592.1 L1084 577.5" fill="none" stroke="#000" stroke-width="2.38" />
<path d="M1077.5 605.1 L1097 584" fill="none" stroke="#000" stroke-width="2.38" />
<path d="M1084 608.4 L1101.1 587.2" fill="none" stroke="#000" stroke-width="2.38" />
<path d="M1096.2 628.7 L1104.3 626.2 L1105.9 631.1 L1097.8 634.4 Z" fill="none" stroke="#000" stroke-width="2.75" />
<circle cx="1131.1" cy="664.4" r="4.6" fill="#000"/>
<line x1="1103.5" y1="633.6" x2="1128.7" y2="662.0" stroke="#000" stroke-width="1.15" stroke-dasharray="8 2 2 2"/>
<line x1="1160.4" y1="640.1" x2="1134.4" y2="662.0" stroke="#000" stroke-width="1.35"/>
<path d="M1245 623.8 L1340 600 L1432.5 565 L1440 566.2 L1460 590 L1470 607.5 L1480 625 L1490 640 L1483.8 641.2 L1465 625 L1447.5 627.5 L1440 632.5 L1405 660 L1380 680 L1340 713.8 L1327.5 730 L1320 728.8 L1305 711.2 L1297.5 684.5 L1323.8 681.2 L1355 660 L1380 645 L1372.5 655 L1362.5 640 L1348.8 620 L1337.5 616.2 L1287.5 637.5 L1280 647.5 L1271.2 658.8 L1250 645 L1243.8 637.5 Z" fill="#fff" stroke="#000" stroke-width="2.5" />
<path d="M1250 628 L1340 605.5 L1430 571.2" fill="none" stroke="#000" stroke-width="3.0" />
<path d="M1255 633 L1330 615.5 L1412.5 583" fill="none" stroke="#000" stroke-width="2.5" />
<path d="M1260 637.5 L1330 620" fill="none" stroke="#000" stroke-width="1.88" />
<path d="M1245 623.8 L1255 628 L1280 647.5" fill="none" stroke="#000" stroke-width="2.5" />
<path d="M1255 628 L1256.2 637.5 L1272.5 657" fill="none" stroke="#000" stroke-width="1.88" />
<path d="M1243.8 637.5 L1256.2 637.5" fill="none" stroke="#000" stroke-width="1.88" />
<path d="M1340 600 L1345 606.2 L1340 618.8" fill="none" stroke="#000" stroke-width="2.5" />
<path d="M1340 602.5 C1342.5 604.6 1350.4 610.0 1355 615 C1359.6 620.0 1363.3 626.7 1367.5 632.5 C1371.7 638.3 1377.9 647.1 1380 650" fill="none" stroke="#000" stroke-width="2.5" />
<path d="M1345.5 606.2 C1347.9 608.3 1355.5 614.0 1360 618.8 C1364.5 623.6 1368.5 630.6 1372.5 635 C1376.5 639.4 1381.9 643.3 1383.8 645" fill="none" stroke="#000" stroke-width="1.88" />
<path d="M1430 571.2 L1442.5 585 L1452.5 602.5 L1462.5 620" fill="none" stroke="#000" stroke-width="2.5" />
<path d="M1432.5 565 L1450 592.5 L1465 615" fill="none" stroke="#000" stroke-width="3.25" />
<path d="M1412.5 583 L1425 580 L1435 595 L1430 605 L1405 627.5" fill="none" stroke="#000" stroke-width="2.5" />
<path d="M1435 595 L1445 600 L1447.5 627.5" fill="none" stroke="#000" stroke-width="2.5" />
<ellipse cx="1433.8" cy="602.5" rx="4" ry="4" fill="none" stroke="#000" stroke-width="2.5"/>
<path d="M1325 680 L1435 602.5" fill="none" stroke="#000" stroke-width="3.25" />
<path d="M1320 692.5 L1440 610" fill="none" stroke="#000" stroke-width="2.75" />
<path d="M1317.5 702.5 L1405 640" fill="none" stroke="#000" stroke-width="3.75" />
<path d="M1320 710 L1417.5 637.5" fill="none" stroke="#000" stroke-width="2.75" />
<path d="M1330 717.5 L1435 632.5" fill="none" stroke="#000" stroke-width="3.25" />
<path d="M1335 710 L1392.5 665" fill="none" stroke="#000" stroke-width="2.25" />
<path d="M1315 700 L1355 672.5" fill="none" stroke="#000" stroke-width="2.25" />
<path d="M1297.5 684.5 L1315 712.5 L1323.8 681.2" fill="none" stroke="#000" stroke-width="2.5" />
<path d="M1315 712.5 L1327.5 730" fill="none" stroke="#000" stroke-width="2.5" />
<path d="M1303.8 706.2 L1315 712.5" fill="none" stroke="#000" stroke-width="1.88" />
<ellipse cx="1315.8" cy="715.8" rx="2.5" ry="2.5" fill="none" stroke="#000" stroke-width="1.88"/>
<path d="M1425 637.5 L1440 630 L1447.5 632.5 L1440 640 L1430 642.5 Z" fill="#333" stroke="#000" stroke-width="3.12" />
<path d="M1233 648.8 L1196.2 676.2" fill="none" stroke="#000" stroke-width="3.75" />
<path d="M1252.5 656.2 L1235 667.5 L1203.8 695" fill="none" stroke="#000" stroke-width="2.5" />
<path d="M1230 646.2 L1193.8 673.8" fill="none" stroke="#000" stroke-width="1.88" />
<path d="M1177.5 690 L1192.5 680 L1203.8 686.2 L1202.5 695 L1190 705 L1182.5 700 Z" fill="#fff" stroke="#000" stroke-width="2.5" />
<path d="M1182.5 692.5 L1193.8 685 L1202.5 690" fill="none" stroke="#000" stroke-width="1.88" />
<path d="M1182.5 692.5 L1187.5 702.5" fill="none" stroke="#000" stroke-width="1.88" />
<path d="M1178.8 695 L1145 720 L1120 742.5" fill="none" stroke="#000" stroke-width="2.5" />
<path d="M1187.5 703.8 L1152.5 730 L1133.8 745" fill="none" stroke="#000" stroke-width="2.5" />
<path d="M1175 692.5 L1142.5 716.2 L1117.5 740" fill="none" stroke="#000" stroke-width="1.88" />
<path d="M1097.5 755 L1117.5 742.5 L1120 745 L1130 737.5 L1140 727.5 L1147.5 732.5 L1151.2 745 L1133.8 760 L1130 767.5 L1100 788.8 L1091.2 782.5 L1095 780 L1120 763.8 L1117.5 755 L1087.5 770 L1086.2 766.2 Z" fill="#fff" stroke="#000" stroke-width="2.5" />
<path d="M1120 745 L1133.8 760" fill="none" stroke="#000" stroke-width="1.88" />
<path d="M1130 737.5 L1136.2 745 L1146.2 737.5" fill="none" stroke="#000" stroke-width="1.88" />
<path d="M1140 727.5 L1142.5 735" fill="none" stroke="#000" stroke-width="1.88" />
<path d="M1098.8 760 C1101.5 758.8 1111.5 753.1 1115 752.5 C1118.5 751.9 1119.6 754.8 1120 756.2 C1120.4 757.7 1120.8 758.9 1117.5 761.2 C1114.2 763.5 1102.9 768.5 1100 770" fill="none" stroke="#000" stroke-width="1.88" />
<path d="M1131.2 745 L1140 755 L1148.8 748.8 L1141.2 738.8" fill="none" stroke="#000" stroke-width="1.88" />
<path d="M1151.2 752.5 L1157.5 750 L1166.2 760 L1190 790 L1205 810 L1190 832.5" fill="none" stroke="#000" stroke-width="2.5" />
<path d="M1203.8 695 C1201.1 697.9 1192.7 705.8 1187.5 712.5 C1182.3 719.2 1176.0 727.3 1172.5 735 C1169.0 742.7 1167.2 754.8 1166.2 758.8" fill="none" stroke="#000" stroke-width="2.5" />
<path d="M1207.5 698.8 C1204.8 701.7 1196.3 709.8 1191.2 716.2 C1186.1 722.7 1180.5 730.2 1177 737.5 C1173.5 744.8 1171.6 756.2 1170.5 760" fill="none" stroke="#000" stroke-width="1.88" />
<path d="M1197.5 793.8 C1201.2 792.2 1212.9 788.1 1220 784.5 C1227.1 780.9 1234.2 776.6 1240 772 C1245.8 767.4 1252.5 759.5 1255 757" fill="none" stroke="#000" stroke-width="2.5" />
<path d="M1200 798 C1203.8 796.5 1215.4 792.4 1222.5 788.8 C1229.6 785.2 1236.6 780.8 1242.5 776.2 C1248.4 771.6 1255.4 763.7 1258 761.2" fill="none" stroke="#000" stroke-width="1.88" />
<path d="M1166.2 758.8 C1167.7 762.3 1169.8 774.2 1175 780 C1180.2 785.8 1193.8 791.5 1197.5 793.8" fill="none" stroke="#000" stroke-width="1.88" />
<path d="M1302.5 715 L1252.5 757.5 L1220 795 L1192.5 835" fill="none" stroke="#000" stroke-width="2.5" />
<path d="M1315 727.5 L1270 775 L1230 820 L1207.5 847.5" fill="none" stroke="#000" stroke-width="2.5" />
<path d="M1306.2 738 L1266.2 777.5 L1227.5 818.8 L1205 845" fill="none" stroke="#000" stroke-width="1.88" />
<path d="M1252.5 757.5 L1270 775" fill="none" stroke="#000" stroke-width="1.88" />
<path d="M1307.5 737.5 L1303.8 735.5" fill="none" stroke="#000" stroke-width="3.75" />
<path d="M1156.2 856.2 L1192.5 835 L1202.5 847.5 L1206.2 850 L1200 857.5 L1170 872.5 L1168.8 868.8 L1187.5 857.5 L1185 852.5 L1158.8 865 Z" fill="#fff" stroke="#000" stroke-width="2.5" />
<path d="M1162.5 857.5 C1166.7 855.4 1182.1 846.7 1187.5 845 C1192.9 843.3 1194.6 846.0 1195 847.5 C1195.4 849.0 1190.8 852.8 1190 853.8" fill="none" stroke="#000" stroke-width="1.88" />
<path d="M1192.5 835 L1190 832.5" fill="none" stroke="#000" stroke-width="1.88" />
<path d="M1195 831.2 L1205 845" fill="none" stroke="#000" stroke-width="1.88" />
<ellipse cx="1193.8" cy="846.2" rx="3" ry="3" fill="none" stroke="#000" stroke-width="1.88"/>
<path d="M1245 623.8 L1340 600 L1432.5 565" fill="none" stroke="#000" stroke-width="3.5" />
<path d="M1252.5 630 L1340 608 L1427.5 573.8" fill="none" stroke="#000" stroke-width="2.75" />
<path d="M1265 642.5 L1330 625 L1340 620" fill="none" stroke="#000" stroke-width="2.5" />
<path d="M1355 602.5 L1412.5 585.5" fill="none" stroke="#000" stroke-width="2.5" />
<path d="M1345 605 L1405 595 L1430 580" fill="none" stroke="#000" stroke-width="2.0" />
<path d="M1350 618.8 L1410 602.5" fill="none" stroke="#000" stroke-width="2.0" />
<path d="M1330 690 L1430 615" fill="none" stroke="#000" stroke-width="3.25" />
<path d="M1327.5 700 L1425 627.5" fill="none" stroke="#000" stroke-width="3.0" />
<path d="M1340 702.5 L1440 625" fill="none" stroke="#000" stroke-width="3.75" />
<path d="M1355 670 L1405 633.8" fill="none" stroke="#000" stroke-width="2.5" />
<path d="M1345 717.5 L1380 685" fill="none" stroke="#000" stroke-width="2.5" />
<path d="M1440 566.2 L1460 590 L1470 607.5 L1490 640" fill="none" stroke="#000" stroke-width="3.75" />
<path d="M1436.2 570 L1455 595 L1465 615" fill="none" stroke="#000" stroke-width="2.75" />
<ellipse cx="1412.5" cy="580.0" rx="3" ry="3" fill="none" stroke="#000" stroke-width="2.5"/>
<ellipse cx="1435.0" cy="582.5" rx="3" ry="3" fill="none" stroke="#000" stroke-width="2.5"/>
<path d="M1231.1 644.9 L1255.5 649.8 L1258.8 659.5 L1210 705 L1177.5 753.8 L1210 786.2 L1250.6 752.1 L1297.8 711.5 L1310.8 721.2 L1310.8 740.8 L1214.9 852.9 L1171 872.4 L1154.8 857.8 L1190.5 828.5 L1135.2 770 L1099.5 792.8 L1084.9 770 L1115.8 740.8 L1174.2 687.1 Z" fill="#fff" stroke="#fff" stroke-width="1.15" />
<path d="M1231.1 648.1 L1193.8 677.4" fill="none" stroke="#000" stroke-width="4.25" />
<path d="M1233.6 652.2 L1197.8 680.6" fill="none" stroke="#000" stroke-width="2.25" />
<path d="M1175.9 688.8 L1190.5 679 L1201.9 682.2 L1205.1 687.1 L1205.1 693.6 L1190.5 705 L1184 701.8 Z" fill="#fff" stroke="#000" stroke-width="2.75" />
<path d="M1184 693.6 L1200.2 685.5" fill="none" stroke="#000" stroke-width="2.25" />
<path d="M1184 693.6 L1187.2 703.4" fill="none" stroke="#000" stroke-width="2.25" />
<path d="M1193.8 678.2 L1196.2 683.1" fill="none" stroke="#000" stroke-width="2.25" />
<path d="M1174.2 688.8 L1115.8 740.8" fill="none" stroke="#000" stroke-width="2.75" />
<path d="M1179.1 694.4 L1120.6 745.6" fill="none" stroke="#000" stroke-width="2.75" />
<path d="M1204.3 696.1 L1250.6 655.4" fill="none" stroke="#000" stroke-width="2.25" />
<path d="M1207.6 700.5 L1254.7 658.7" fill="none" stroke="#000" stroke-width="2.25" />
<path d="M1205.1 698.5 C1201.8 702.8 1191.3 716.9 1185.6 724.5 C1179.9 732.1 1174.2 738.0 1171 744 C1167.8 750.0 1166.9 757.5 1166.1 760.2" fill="none" stroke="#000" stroke-width="2.25" />
<path d="M1208.4 702.6 C1205.2 706.6 1194.8 719.7 1189.2 726.9 C1183.7 734.1 1178.5 739.5 1175.1 745.6 C1171.7 751.7 1170.0 760.5 1169 763.5" fill="none" stroke="#000" stroke-width="2.25" />
<path d="M1127.1 734.2 L1140.1 727.8 L1149.9 732.6 L1151.5 739.1 L1136.9 753.8 L1130.4 745.6 Z" fill="none" stroke="#000" stroke-width="2.75" />
<path d="M1133.6 737.5 L1143.4 734.2 L1146.6 739.1 L1136.9 747.2 Z" fill="none" stroke="#000" stroke-width="2.25" />
<path d="M1097.9 752.1 L1115.8 744 L1123.9 753.8 L1122.2 760.2 L1101.1 770" fill="none" stroke="#000" stroke-width="2.75" />
<path d="M1086.5 768.4 L1119 753.8 L1123.9 758.6 L1120.6 763.5 L1088.1 774.9 Z" fill="none" stroke="#000" stroke-width="2.75" />
<path d="M1092.2 783 L1133.6 763.5 L1136.9 768.4 L1099.5 790.3 Z" fill="none" stroke="#000" stroke-width="2.75" />
<path d="M1119 744 L1133.6 763.5" fill="none" stroke="#000" stroke-width="2.75" />
<path d="M1123.9 740.8 L1136.9 758.6" fill="none" stroke="#000" stroke-width="2.25" />
<path d="M1136.9 768.4 C1138.4 766.9 1152.4 751.2 1154.8 750.5 C1157.2 749.8 1163.9 757.5 1166.1 760.2 C1168.3 762.9 1177.4 778.8 1180.8 783 C1184.2 787.2 1206.0 806.7 1206.8 810.6 C1207.6 814.5 1191.9 828.5 1190.5 830.1" fill="none" stroke="#000" stroke-width="2.75" />
<path d="M1196.2 792.8 C1199.8 791.4 1210.4 788.9 1218.1 784.6 C1225.8 780.3 1236.7 771.9 1242.5 766.8 C1248.3 761.7 1251.3 756.0 1253.1 753.8" fill="none" stroke="#000" stroke-width="2.25" />
<path d="M1197.8 796.8 C1201.5 795.4 1212.1 793.0 1219.8 788.7 C1227.5 784.4 1238.0 775.8 1244.1 770.8 C1250.2 765.8 1254.3 760.6 1256.3 758.6" fill="none" stroke="#000" stroke-width="2.25" />
<path d="M1301.8 713.9 L1252.2 753.8" fill="none" stroke="#000" stroke-width="2.75" />
<path d="M1307.5 719.6 L1257.1 760.2" fill="none" stroke="#000" stroke-width="2.25" />
<path d="M1253.1 754.6 L1270.1 775.7" fill="none" stroke="#000" stroke-width="2.25" />
<path d="M1268.5 774.9 L1208.4 846.4" fill="none" stroke="#000" stroke-width="2.75" />
<path d="M1272.6 776.5 L1212.4 850.4" fill="none" stroke="#000" stroke-width="2.75" />
<path d="M1305.1 736.7 L1271.8 775.7" fill="none" stroke="#000" stroke-width="2.25" />
<path d="M1307.5 739.5 L1274.2 778.1" fill="none" stroke="#000" stroke-width="2.25" />
<path d="M1305.9 735.9 L1304.2 734.2" fill="none" stroke="#000" stroke-width="3.75" />
<path d="M1256.3 759.4 L1200.2 826.9 L1193.8 829.3" fill="none" stroke="#000" stroke-width="2.25" />
<path d="M1156.4 856.1 L1192.1 833.4 L1200.2 843.1 L1208.4 846.4 L1210 851.2 L1192.1 865.9 L1187.2 862.6 L1171 870.8 L1168.6 867.5 L1184 859.4 L1180.8 854.5 L1159.6 865.1 Z" fill="#fff" stroke="#000" stroke-width="2.75" />
<path d="M1180.8 846.4 C1183.0 845.9 1191.3 842.8 1193.8 843.1 C1196.3 843.4 1196.2 846.9 1195.7 848.3 C1195.2 849.6 1191.4 850.7 1190.5 851.2" fill="none" stroke="#000" stroke-width="2.25" />
<path d="M1190.5 830.1 L1200.2 843.1" fill="none" stroke="#000" stroke-width="2.25" />
<path d="M1193.8 828.5 L1204.3 842.3" fill="none" stroke="#000" stroke-width="2.25" />
<ellipse cx="1192.1" cy="846.7" rx="2.6" ry="2.6" fill="none" stroke="#000" stroke-width="1.88"/>
<path d="M1436.9 565.3 L1465 598.1 L1476.2 615 L1489.4 633.8 L1484.7 634.1 L1466.9 619.7 L1450 620.6 L1442.5 625.3" fill="none" stroke="#000" stroke-width="2.75" />
<path d="M1431.2 568.1 L1457.5 600 L1463.1 611.2 L1450 620.6" fill="none" stroke="#000" stroke-width="2.5" />
<path d="M1476.2 611.2 C1477.0 610.6 1479.3 607.8 1480.9 607.5 C1482.5 607.2 1485.0 607.8 1485.6 609.4 C1486.2 611.0 1485.5 615.2 1484.7 616.9 C1483.9 618.6 1481.5 619.2 1480.9 619.7" fill="none" stroke="#000" stroke-width="2.0" />
<path d="M1463.1 611.2 L1474.4 622.5 L1485.6 632.8" fill="none" stroke="#000" stroke-width="3.0" />
<path d="M1466 602.5 L1500.5 602 L1500.5 810 L1405 863.5" fill="none" stroke="#000" stroke-width="1.15" stroke-dasharray="14 2 2 2"/>
<circle cx="1514.5" cy="589" r="4.5" fill="#000"/>
<circle cx="1520.5" cy="635.5" r="4.5" fill="#000"/>
<line x1="1465.0" y1="596.2" x2="1511.9" y2="591.0" stroke="#000" stroke-width="1.15" stroke-dasharray="10 2 2 2"/>
<line x1="1412.5" y1="648.8" x2="1515.6" y2="636.8" stroke="#000" stroke-width="1.15" stroke-dasharray="10 2 2 2"/>
<line x1="1520" y1="592" x2="1535" y2="601" stroke="#000" stroke-width="1.35"/>
<line x1="1524" y1="631" x2="1535" y2="621" stroke="#000" stroke-width="1.35"/>
<line x1="1503.4" y1="569.1" x2="1482.8" y2="609.4" stroke="#000" stroke-width="1.35"/>
<line x1="1473.4" y1="510.9" x2="1442.5" y2="568.1" stroke="#000" stroke-width="1.35"/>
<circle cx="1294.5" cy="550.9" r="3" fill="#000"/>
<circle cx="1327.0" cy="574.2" r="4.2" fill="#000"/>
<circle cx="1357.9" cy="559.6" r="3.2" fill="#000"/>
<line x1="1288.0" y1="532.0" x2="1294.5" y2="548.2" stroke="#000" stroke-width="1.35"/>
<line x1="1318.9" y1="555.4" x2="1326.0" y2="571.0" stroke="#000" stroke-width="1.35"/>
<line x1="1349.8" y1="541.8" x2="1357.9" y2="557.4" stroke="#000" stroke-width="1.35"/>
<line x1="1330.2" y1="573.6" x2="1354.6" y2="561.2" stroke="#000" stroke-width="1.15"/>
<line x1="1295.2" y1="553.1" x2="1340.0" y2="642.5" stroke="#000" stroke-width="1.15"/>
<path d="M1292.9 572.6 L1309.1 566.1 L1314 568.4 L1297.8 575.9 Z" fill="#fff" stroke="#000" stroke-width="2.0" />
<path d="M1341.6 640.9 L1361.1 635.4 L1365.3 638 L1345.8 644.1 Z" fill="#fff" stroke="#000" stroke-width="1.75" />
<line x1="1272.4" y1="568.4" x2="1292.9" y2="573.6" stroke="#000" stroke-width="1.35"/>
<line x1="1268.5" y1="579.1" x2="1343.2" y2="640.9" stroke="#000" stroke-width="1.35"/>
<path d="M1323.8 577.5 L1299.4 587.2 L1304.2 608.4" fill="none" stroke="#000" stroke-width="1.15" />
<line x1="1400.1" y1="555.4" x2="1346.5" y2="623.0" stroke="#000" stroke-width="1.35"/>
<circle cx="1347.2" cy="623.0" r="2.5" fill="#000"/>
<line x1="1347.2" y1="624.6" x2="1349.8" y2="631.1" stroke="#000" stroke-width="2.0"/>
<circle cx="1377.4" cy="691.2" r="4.5" fill="#000"/>
<circle cx="1392.7" cy="675.0" r="3.5" fill="#000"/>
<circle cx="1414.8" cy="692.9" r="3.5" fill="#000"/>
<circle cx="1432.6" cy="665.2" r="3.2" fill="#000"/>
<line x1="1349.8" y1="702.6" x2="1431.0" y2="665.9" stroke="#000" stroke-width="1.15"/>
<line x1="1414.8" y1="574.2" x2="1393.6" y2="671.8" stroke="#000" stroke-width="1.15" stroke-dasharray="10 2 2 2"/>
<line x1="1426.1" y1="649.0" x2="1415.4" y2="689.6" stroke="#000" stroke-width="1.15" stroke-dasharray="10 2 2 2"/>
<line x1="1388.8" y1="723.8" x2="1377.4" y2="693.9" stroke="#000" stroke-width="1.35"/>
<line x1="1418.0" y1="709.1" x2="1393.6" y2="678.2" stroke="#000" stroke-width="1.35"/>
<line x1="1419.6" y1="708.5" x2="1414.8" y2="696.1" stroke="#000" stroke-width="1.35"/>
<line x1="1447.2" y1="696.1" x2="1434.2" y2="667.9" stroke="#000" stroke-width="1.35"/>
<circle cx="1407.6" cy="780.6" r="3" fill="#000"/>
<circle cx="1432.6" cy="793.6" r="3" fill="#000"/>
<circle cx="1444.0" cy="801.8" r="3" fill="#000"/>
<circle cx="1383.9" cy="818.0" r="3.5" fill="#000"/>
<circle cx="1407.6" cy="831.0" r="3.5" fill="#000"/>
<circle cx="1367.6" cy="841.7" r="3.8" fill="#000"/>
<circle cx="1391.3" cy="855.4" r="3.8" fill="#000"/>
<circle cx="1404.3" cy="862.8" r="3.5" fill="#000"/>
<line x1="1434.2" y1="767.6" x2="1408.9" y2="779.6" stroke="#000" stroke-width="1.35"/>
<line x1="1439.1" y1="772.5" x2="1432.6" y2="792.0" stroke="#000" stroke-width="1.35"/>
<path d="M1482.3 774.1 L1482.3 801.8 L1445.6 801.8" fill="none" stroke="#000" stroke-width="1.35" />
<line x1="1380.6" y1="790.4" x2="1384.5" y2="815.7" stroke="#000" stroke-width="1.35"/>
<line x1="1382.2" y1="790.4" x2="1406.6" y2="829.4" stroke="#000" stroke-width="1.35"/>
<line x1="1362.8" y1="817.3" x2="1367.6" y2="839.1" stroke="#000" stroke-width="1.35"/>
<line x1="1365.3" y1="817.3" x2="1390.4" y2="853.1" stroke="#000" stroke-width="1.35"/>
<line x1="1367.6" y1="816.4" x2="1403.4" y2="860.9" stroke="#000" stroke-width="1.35"/>
<line x1="1406.6" y1="782.9" x2="1356.2" y2="861.9" stroke="#000" stroke-width="1.15"/>
<line x1="1431.7" y1="795.9" x2="1379.0" y2="874.9" stroke="#000" stroke-width="1.15"/>
<line x1="1443.3" y1="803.4" x2="1393.6" y2="879.8" stroke="#000" stroke-width="1.15"/>
<path d="M1331.9 851.9 L1336.2 850.6 L1378.8 873.8 L1395 885 L1420 915 L1417.5 919.4 L1411.2 918.8 L1390 907.5 L1370 895 L1351.2 875 L1332.5 854.4 Z" fill="#151515" stroke="#000" stroke-width="2.0" />
<path d="M1355.6 873.1 L1360.6 875 L1363.1 877.8" fill="none" stroke="#fff" stroke-width="1.15" />
<path d="M1373.8 886.2 L1383.8 890 L1387.5 893.8" fill="none" stroke="#fff" stroke-width="1.15" />
<path d="M1363.8 880 L1370 885" fill="none" stroke="#fff" stroke-width="1.15" />
<path d="M1391.2 902.5 L1407.5 911.9 L1411.9 916" fill="none" stroke="#fff" stroke-width="1.15" />
<path d="M1385 895 L1395 900" fill="none" stroke="#fff" stroke-width="1.15" />
<path d="M1345 862.5 L1350 865" fill="none" stroke="#fff" stroke-width="1.15" />
<path d="M1337.5 856.2 L1340 857.5" fill="none" stroke="#fff" stroke-width="1.15" />
<path d="M1401.9 871.9 L1405 870 L1423.1 882.5 L1422.2 887.5 L1402.5 875 Z" fill="#fff" stroke="#000" stroke-width="2.12" />
<path d="M1405 873.1 L1420 883.8" fill="none" stroke="#000" stroke-width="1.15" />
<line x1="1420" y1="914" x2="1459" y2="914" stroke="#000" stroke-width="1.35"/>
<line x1="1422" y1="879" x2="1459" y2="879" stroke="#000" stroke-width="1.35"/>
<path d="M805 912.5 C814.4 911.6 907.5 907.2 917.5 906.2 C927.5 905.2 918.1 902.2 925 900 C931.9 897.8 993.1 881.1 1000 879.5 C1006.9 877.9 1006.7 880.5 1007.5 881.2 C1008.3 881.9 1008.1 887.0 1010 887.5 C1011.9 888.0 1027.7 887.2 1030 887.5 C1032.3 887.8 1035.4 890.6 1037.5 891.2 C1039.6 891.8 1052.9 895.3 1055 895 C1057.1 894.7 1061.0 888.6 1062.5 887.5 C1064.0 886.4 1070.8 881.5 1072.5 881.2 C1074.2 880.9 1081.4 883.0 1082.5 883.8 C1083.6 884.6 1086.4 889.9 1086.2 891.2 C1086.0 892.6 1081.6 899.1 1080 900 C1078.4 900.9 1069.6 901.8 1067.5 902.5 C1065.4 903.2 1055.4 907.5 1055 908.8 C1054.6 910.0 1061.9 916.1 1062.5 917.5 C1063.1 918.9 1063.1 923.5 1062.5 925 C1061.9 926.5 1055.7 932.5 1055 935 C1054.3 937.5 1054.6 952.3 1053.8 955 C1053.0 957.7 1045.9 965.4 1045 967.5 C1044.1 969.6 1043.8 977.3 1042.5 980 C1041.2 982.7 1032.3 996.2 1030 1000 C1027.7 1003.8 1017.9 1021.0 1015 1025 C1012.1 1029.0 998.1 1044.2 995 1047.5 C991.9 1050.8 980.0 1063.0 977.5 1065 C975.0 1067.0 967.3 1071.0 965 1071.2 C962.7 1071.4 951.9 1068.2 950 1067.5 C948.1 1066.8 944.2 1062.3 942.5 1062.5 C940.8 1062.7 933.1 1068.6 930 1070 C926.9 1071.4 908.5 1077.9 905 1078.8 C901.5 1079.7 889.6 1081.5 887.5 1081.2 C885.4 1080.9 882.1 1076.3 880 1075 C877.9 1073.7 864.4 1067.1 862.5 1065 C860.6 1062.9 857.7 1054.4 857.5 1050 C857.3 1045.6 860.0 1017.3 860 1012.5 C860.0 1007.7 857.3 995.2 857.5 992.5 C857.7 989.8 862.7 981.5 862.5 980 C862.3 978.5 857.3 975.6 855 975 C852.7 974.4 837.9 973.8 835 972.5 C832.1 971.2 821.5 962.3 820 960 C818.5 957.7 816.7 946.9 817.5 945 C818.3 943.1 831.0 939.8 830 937.5 C829.0 935.2 807.1 919.6 805 917.5 C802.9 915.4 795.6 913.4 805 912.5 Z" fill="#fff" stroke="#000" stroke-width="3.12" />
<ellipse cx="1073.8" cy="892.5" rx="11" ry="9" fill="none" stroke="#000" stroke-width="3.0" transform="rotate(-25 1073.8 892.5)"/>
<ellipse cx="1072.5" cy="894.5" rx="5" ry="4" fill="none" stroke="#000" stroke-width="2.25" transform="rotate(-25 1072.5 894.5)"/>
<path d="M857.5 935 C857.1 930.0 859.2 926.0 867.5 922.5 C875.8 919.0 898.8 914.4 907.5 913.8 C916.2 913.2 916.2 914.8 920 918.8 C923.8 922.8 929.6 932.3 930 937.5 C930.4 942.7 929.6 946.7 922.5 950 C915.4 953.3 896.2 957.1 887.5 957.5 C878.8 957.9 875.0 956.2 870 952.5 C865.0 948.8 857.9 940.0 857.5 935 Z" fill="none" stroke="#000" stroke-width="5.75" />
<ellipse cx="880.0" cy="942.0" rx="10" ry="7.5" fill="none" stroke="#000" stroke-width="3.75" transform="rotate(-15 880.0 942.0)"/>
<ellipse cx="880.0" cy="943.0" rx="6" ry="4.5" fill="none" stroke="#000" stroke-width="1.88" transform="rotate(-15 880.0 943.0)"/>
<ellipse cx="903.0" cy="933.0" rx="9.5" ry="7" fill="none" stroke="#000" stroke-width="3.75" transform="rotate(-15 903.0 933.0)"/>
<ellipse cx="903.0" cy="934.0" rx="5.5" ry="4" fill="none" stroke="#000" stroke-width="1.88" transform="rotate(-15 903.0 934.0)"/>
<path d="M917.5 906.2 C919.6 908.9 925.8 917.7 930 922.5 C934.2 927.3 937.5 930.0 942.5 935 C947.5 940.0 957.9 947.9 960 952.5 C962.1 957.1 959.2 956.2 955 962.5 C950.8 968.8 943.3 979.6 935 990 C926.7 1000.4 912.5 1016.7 905 1025 C897.5 1033.3 892.5 1037.5 890 1040" fill="none" stroke="#000" stroke-width="3.12" />
<path d="M925 932.5 C927.5 935.4 939.2 943.8 940 950 C940.8 956.2 935.8 960.8 930 970 C924.2 979.2 912.1 995.0 905 1005 C897.9 1015.0 890.4 1025.8 887.5 1030" fill="none" stroke="#000" stroke-width="3.12" />
<path d="M960 952.5 L1053.8 935" fill="none" stroke="#000" stroke-width="2.38" />
<path d="M955 935 L1050 922.5" fill="none" stroke="#000" stroke-width="2.38" />
<path d="M942.5 925 L1042.5 912.5 L1055 908.8" fill="none" stroke="#000" stroke-width="2.38" />
<path d="M930 915 L1030 891.2" fill="none" stroke="#000" stroke-width="2.38" />
<path d="M920 910 L1000 883.8" fill="none" stroke="#000" stroke-width="2.38" />
<path d="M925 903.8 L1002.5 881.2" fill="none" stroke="#000" stroke-width="2.38" />
<path d="M935 921.2 L1035 897.5" fill="none" stroke="#000" stroke-width="2.38" />
<path d="M965 957.5 L1052.5 942.5" fill="none" stroke="#000" stroke-width="2.38" />
<path d="M960 925 L975 915 L985 922.5 L970 930 Z" fill="none" stroke="#000" stroke-width="2.38" />
<path d="M975 915 L1030 902.5" fill="none" stroke="#000" stroke-width="2.38" />
<path d="M985 922.5 L1037.5 910" fill="none" stroke="#000" stroke-width="2.38" />
<path d="M1037.5 891.2 L1045 915 L1050 922.5 L1053.8 935" fill="none" stroke="#000" stroke-width="3.12" />
<path d="M1030 887.5 L1040 915 L1045 932.5" fill="none" stroke="#000" stroke-width="2.38" />
<ellipse cx="1042.5" cy="932.5" rx="3" ry="2.5" fill="none" stroke="#000" stroke-width="1.88"/>
<ellipse cx="943.8" cy="928.8" rx="2.5" ry="2.5" fill="none" stroke="#000" stroke-width="1.88"/>
<circle cx="930.0" cy="932.5" r="2.5" fill="#000"/>
<path d="M935 990 C938.3 987.5 945.4 978.8 955 975 C964.6 971.2 980.0 969.2 992.5 967.5 C1005.0 965.8 1021.7 965.0 1030 965 C1038.3 965.0 1040.4 967.1 1042.5 967.5" fill="none" stroke="#000" stroke-width="3.12" />
<path d="M920 1010 C925.8 1006.7 945.0 994.6 955 990 C965.0 985.4 971.7 984.2 980 982.5 C988.3 980.8 1000.8 980.4 1005 980" fill="none" stroke="#000" stroke-width="2.38" />
<path d="M930 1042.5 C940.4 1034.2 973.8 1004.6 992.5 992.5 C1011.2 980.4 1034.2 973.8 1042.5 970" fill="none" stroke="#000" stroke-width="3.0" />
<path d="M942.5 1050 C952.9 1041.7 988.8 1011.7 1005 1000 C1021.2 988.3 1034.2 983.3 1040 980" fill="none" stroke="#000" stroke-width="2.75" />
<path d="M950 1065 C960.0 1055.8 996.7 1020.8 1010 1010 C1023.3 999.2 1026.7 1001.7 1030 1000" fill="none" stroke="#000" stroke-width="2.5" />
<path d="M935 1047.5 L997.5 996.2" fill="none" stroke="#000" stroke-width="1.88" />
<path d="M955 1062.5 L1012.5 1015" fill="none" stroke="#000" stroke-width="1.88" />
<path d="M965 1067.5 L1000 1040" fill="none" stroke="#000" stroke-width="1.88" />
<path d="M927.5 1035 L985 990" fill="none" stroke="#000" stroke-width="2.5" />
<path d="M1005 997.5 C1006.2 999.6 1011.7 1005.4 1012.5 1010 C1013.3 1014.6 1010.4 1022.5 1010 1025" fill="none" stroke="#000" stroke-width="3.12" />
<path d="M1001.2 1000 C1002.3 1001.9 1007.2 1006.6 1008 1011.2 C1008.8 1015.8 1006.5 1024.8 1006.2 1027.5" fill="none" stroke="#000" stroke-width="2.38" />
<path d="M942.5 1062.5 L945 1050 L930 1042.5" fill="none" stroke="#000" stroke-width="3.12" />
<path d="M830 937.5 L855 960 L862.5 980" fill="none" stroke="#000" stroke-width="3.12" />
<path d="M820 960 L832.5 955 L855 975" fill="none" stroke="#000" stroke-width="3.12" />
<path d="M817.5 945 L821.2 942.5 L833.8 953.8 L832.5 967.5" fill="none" stroke="#000" stroke-width="2.38" />
<path d="M837.5 925 L862.5 957.5 L880 967.5" fill="none" stroke="#000" stroke-width="3.75" />
<path d="M825 932.5 L855 967.5" fill="none" stroke="#000" stroke-width="3.75" />
<ellipse cx="855.0" cy="955.0" rx="3" ry="3" fill="none" stroke="#000" stroke-width="2.5"/>
<ellipse cx="875.0" cy="960.0" rx="3" ry="3" fill="none" stroke="#000" stroke-width="2.5"/>
<path d="M805 912.5 L812.5 917.5 L920 911.2" fill="none" stroke="#000" stroke-width="2.38" />
<path d="M812.5 917.5 L837.5 937.5" fill="none" stroke="#000" stroke-width="2.38" />
<path d="M857.5 935 L835 932.5 L830 937.5" fill="none" stroke="#000" stroke-width="2.38" />
<path d="M870 952.5 L865 980 L862.5 1010" fill="none" stroke="#000" stroke-width="3.12" />
<path d="M887.5 957.5 L880 990 L890 1025" fill="none" stroke="#000" stroke-width="3.12" />
<path d="M922.5 950 L905 980 L890 1010" fill="none" stroke="#000" stroke-width="3.12" />
<path d="M930 937.5 L955 962.5" fill="none" stroke="#000" stroke-width="3.12" />
<path d="M887.5 957.5 L915 990" fill="none" stroke="#000" stroke-width="3.12" />
<path d="M875 957.5 L900 1000" fill="none" stroke="#000" stroke-width="3.12" />
<path d="M880 1040 C881.7 1040.0 885.8 1038.3 890 1040 C894.2 1041.7 900.0 1047.1 905 1050 C910.0 1052.9 913.8 1056.7 920 1057.5 C926.2 1058.3 938.8 1055.4 942.5 1055" fill="none" stroke="#000" stroke-width="3.12" />
<path d="M877.5 1045 L887.5 1075" fill="none" stroke="#000" stroke-width="2.38" />
<path d="M862.5 1010 C865.4 1012.5 875.4 1020.0 880 1025 C884.6 1030.0 888.3 1037.5 890 1040" fill="none" stroke="#000" stroke-width="3.12" />
<path d="M865 990 L885 1015 L900 1035 L905 1040" fill="none" stroke="#000" stroke-width="2.38" />
<path d="M880 1040 L877.5 1045 L880 1070" fill="none" stroke="#000" stroke-width="2.38" />
<path d="M890 1047.5 C893.3 1049.6 903.3 1057.5 910 1060 C916.7 1062.5 924.6 1062.5 930 1062.5 C935.4 1062.5 940.4 1060.4 942.5 1060" fill="none" stroke="#000" stroke-width="2.38" />
<line x1="832.5" y1="1033.0" x2="858.8" y2="1033.0" stroke="#000" stroke-width="1.35"/>
<rect x="697.5" y="1015" width="97" height="36" fill="#fff" stroke="#000" stroke-width="1.1"/>
<line x1="794.5" y1="1033" x2="803" y2="1033" stroke="#000" stroke-width="1.35"/>
<path d="M940 1040 C950.0 1031.7 983.3 1001.2 1000 990 C1016.7 978.8 1033.3 975.4 1040 972.5" fill="none" stroke="#000" stroke-width="3.25" />
<path d="M955 1057.5 C964.6 1049.0 998.8 1017.5 1012.5 1006.2 C1026.2 995.0 1033.3 992.7 1037.5 990" fill="none" stroke="#000" stroke-width="3.25" />
<path d="M970 1062.5 L1020 1020" fill="none" stroke="#000" stroke-width="2.75" />
<path d="M932.5 1036.2 C936.2 1032.7 945.4 1023.3 955 1015 C964.6 1006.7 984.2 991.0 990 986.2" fill="none" stroke="#000" stroke-width="2.5" />
<path d="M975 1067.5 C980.0 1063.3 996.5 1051.7 1005 1042.5 C1013.5 1033.3 1022.7 1017.5 1026.2 1012.5" fill="none" stroke="#000" stroke-width="2.5" />
<path d="M855 945 C856.2 947.9 858.3 958.3 862.5 962.5 C866.7 966.7 875.4 970.0 880 970 C884.6 970.0 888.3 963.8 890 962.5" fill="none" stroke="#000" stroke-width="3.75" />
<path d="M837.5 945 C840.4 948.8 850.8 961.7 855 967.5 C859.2 973.3 861.2 977.9 862.5 980" fill="none" stroke="#000" stroke-width="3.25" />
<path d="M930 937.5 C931.7 936.7 935.8 932.9 940 932.5 C944.2 932.1 952.5 934.6 955 935" fill="none" stroke="#000" stroke-width="3.25" />
<path d="M920 918.8 L930 915" fill="none" stroke="#000" stroke-width="3.25" />
<path d="M900 960 C903.3 959.2 915.0 957.5 920 955 C925.0 952.5 928.3 946.7 930 945" fill="none" stroke="#000" stroke-width="3.0" />
<path d="M1055 908.8 L1067.5 925 L1062.5 925" fill="none" stroke="#000" stroke-width="2.75" />
<path d="M1055 895 L1060 903.8 L1067.5 902.5" fill="none" stroke="#000" stroke-width="2.5" />
<path d="M1062.5 887.5 L1070 901.2" fill="none" stroke="#000" stroke-width="2.5" />
<path d="M1003.8 652.5 L980 712.5 L968.8 736.2" fill="none" stroke="#000" stroke-width="1.15" />
<path d="M960 757.5 L947 792.5" fill="none" stroke="#000" stroke-width="1.15" />
<path d="M936.2 817.5 L895 915 L910 970" fill="none" stroke="#000" stroke-width="1.15" />
<path d="M950 815 L920 885" fill="none" stroke="#000" stroke-width="1.15" />
<path d="M946.2 673.8 C948.6 672.1 956.7 671.4 962 670 C967.3 668.6 981.6 664.2 986 663.6 C990.4 663.0 992.8 664.2 995 665.5 C997.2 666.8 1000.3 670.5 1002.5 673 C1004.7 675.5 1010.6 681.7 1011.5 684.2 C1012.4 686.7 1010.9 690.1 1009.2 691.8 C1007.5 693.5 1002.9 695.1 998.8 697 C994.7 698.9 983.0 704.7 978.5 706 C974.0 707.3 968.4 707.1 965 706.8 C961.6 706.5 955.7 703.9 953 703.8 C950.3 703.7 946.8 706.9 944.8 706 C942.8 705.1 938.3 698.9 938 697 C937.7 695.1 941.7 693.7 942.5 691.8 C943.3 689.9 943.5 685.2 944 682.8 C944.5 680.4 943.8 675.5 946.2 673.8 Z" fill="#141414" stroke="#000" stroke-width="1.35" />
<path d="M1002.5 684.2 L1008.5 685 L1007 691 L1001 692.5 Z" fill="#fff" stroke="#fff" stroke-width="1.15" />
<path d="M984.5 685 L989.8 684.2 L979.2 698.5 L974 700 Z" fill="#fff" stroke="#fff" stroke-width="1.15" />
<path d="M968 680.5 L975.5 676.8 L977 679 L969.5 682.8 Z" fill="#fff" stroke="#fff" stroke-width="1.15" />
<path d="M971.8 684.2 L979.2 681.2 L980 683.5 L973.2 686.5 Z" fill="#fff" stroke="#fff" stroke-width="1.15" />
<path d="M963.5 673 L980 670 L981.5 672.2 L966.5 675.2 Z" fill="#fff" stroke="#fff" stroke-width="1.15" />
<path d="M950 676.8 L966.5 676 L965 677.5 L951.5 678.2 Z" fill="#fff" stroke="#fff" stroke-width="1.15" />
<path d="M944.8 693.2 L950 700 L948.5 701.5 L943.2 695.5 Z" fill="#fff" stroke="#fff" stroke-width="1.15" />
<path d="M986 670 L993.5 668.5 L995.8 670.8 L987.5 672.2 Z" fill="#fff" stroke="#fff" stroke-width="1.15" />
<path d="M962 697 L969.5 695.5 L968 700 L963.5 700.8 Z" fill="#fff" stroke="#fff" stroke-width="1.15" />
<path d="M993.5 680.5 L998 685 L996.5 686.5 L992 682.8 Z" fill="#fff" stroke="#fff" stroke-width="1.15" />
<line x1="993.8" y1="702.5" x2="1020.0" y2="748.8" stroke="#000" stroke-width="1.35"/>
<ellipse cx="965.0" cy="744.2" rx="14" ry="10" fill="#1a1a1a" stroke="#000" stroke-width="1.15" transform="rotate(-12 965.0 744.2)"/>
<path d="M956.2 745 C956.8 744.4 958.1 742.0 960 741.2 C961.9 740.4 966.2 740.2 967.5 740" fill="none" stroke="#fff" stroke-width="1.75" />
<path d="M962.5 748.8 C963.8 748.4 967.9 747.2 970 746.2 C972.1 745.2 974.2 743.1 975 742.5" fill="none" stroke="#fff" stroke-width="1.35" />
<line x1="975.0" y1="752.5" x2="983.8" y2="771.2" stroke="#000" stroke-width="1.35"/>
<ellipse cx="941.2" cy="800.5" rx="12.5" ry="11.5" fill="#1a1a1a" stroke="#000" stroke-width="1.15"/>
<path d="M932.5 795 C933.8 794.6 937.3 792.5 940 792.5 C942.7 792.5 947.3 794.6 948.8 795" fill="none" stroke="#fff" stroke-width="1.35" />
<path d="M932.5 806.2 L935 812.5 L947.5 812.5 L951.2 807.5" fill="none" stroke="#000" stroke-width="3.12" />
<line x1="901.2" y1="722.5" x2="938.8" y2="790.0" stroke="#000" stroke-width="1.35"/>
<path d="M935 768 L960 756.2" fill="none" stroke="#000" stroke-width="4.25" stroke-dasharray="2.2 1.2"/>
<path d="M881.2 792.5 C886.2 791.3 889.7 791.9 900 788 C910.3 784.1 910.7 783.3 920 778 C929.3 772.7 931.0 770.7 935 768" fill="none" stroke="#000" stroke-width="4.5" />
<path d="M881.2 792.5 C886.2 791.3 889.7 791.9 900 788 C910.3 784.1 910.7 783.3 920 778 C929.3 772.7 931.0 770.7 935 768" fill="none" stroke="#fff" stroke-width="1.35" />
<line x1="931.2" y1="737.5" x2="946.2" y2="761.2" stroke="#000" stroke-width="1.35"/>
<line x1="900.0" y1="756.2" x2="912.5" y2="781.2" stroke="#000" stroke-width="1.35"/>
<circle cx="876.5" cy="776.5" r="2.8" fill="#000"/>
<line x1="860.0" y1="743.8" x2="875.5" y2="773.8" stroke="#000" stroke-width="1.35"/>
<line x1="876.5" y1="780.0" x2="865.0" y2="805.0" stroke="#000" stroke-width="1.15"/>
<path d="M820 757.5 L835 775" fill="none" stroke="#000" stroke-width="3.75" />
<path d="M832.5 776.2 L840 782.5 L847.5 783.8" fill="none" stroke="#000" stroke-width="3.25" />
<path d="M847.5 783.8 L848.8 781.2" fill="none" stroke="#000" stroke-width="2.5" />
<path d="M855 798.8 L860 796.2 L871.2 810 L867.5 813 Z" fill="#222" stroke="#000" stroke-width="1.88" />
<line x1="840.0" y1="782.5" x2="856.2" y2="798.8" stroke="#000" stroke-width="1.15" stroke-dasharray="4 2"/>
<line x1="810.0" y1="773.0" x2="821.2" y2="762.5" stroke="#000" stroke-width="1.35"/>
<line x1="810.0" y1="805.0" x2="836.2" y2="782.5" stroke="#000" stroke-width="1.35"/>
<line x1="843.8" y1="813.8" x2="856.2" y2="802.5" stroke="#000" stroke-width="1.35"/>
<line x1="862.5" y1="812.5" x2="862.5" y2="915.0" stroke="#000" stroke-width="1.15"/>
<line x1="852.0" y1="853.8" x2="852.0" y2="930.0" stroke="#000" stroke-width="1.15"/>
<path d="M849.5 837 L854.5 837 L854.5 840 L853.5 840 L853.5 853.8 L850.5 853.8 L850.5 840 L849.5 840 Z" fill="#fff" stroke="#000" stroke-width="2.0" />
<circle cx="852.0" cy="838.0" r="2.6" fill="#000"/>
<line x1="813.0" y1="848.0" x2="850.0" y2="848.0" stroke="#000" stroke-width="1.35"/>
<path d="M843.8 868 L860 868" fill="none" stroke="#000" stroke-width="4.0" />
<path d="M848 869.2 L848 874.5 L856 874.5 L856 869.2" fill="none" stroke="#000" stroke-width="2.0" />
<line x1="787.0" y1="867.5" x2="843.8" y2="867.5" stroke="#000" stroke-width="1.35"/>
<path d="M843.8 891.2 L860 891.2" fill="none" stroke="#000" stroke-width="4.25" />
<path d="M843.8 897 L860 897" fill="none" stroke="#000" stroke-width="4.25" />
<path d="M847.5 892.5 L856.2 895.8" fill="none" stroke="#000" stroke-width="1.35" />
<line x1="813.0" y1="895.5" x2="843.8" y2="895.5" stroke="#000" stroke-width="1.35"/>
<path d="M935 834.2 L961.2 845 L945 885 L920 875 Z" fill="#fff" stroke="#000" stroke-width="1.35" />
<path d="M932.5 845 C932.9 844.2 933.3 841.0 935 840 C936.7 839.0 940.4 838.4 942.5 838.8 C944.6 839.2 945.8 842.3 947.5 842.5 C949.2 842.7 950.8 839.4 952.5 840 C954.2 840.6 957.3 843.9 957.5 846.2 C957.7 848.5 954.4 852.5 953.8 853.8" fill="none" stroke="#000" stroke-width="2.75" />
<ellipse cx="938.8" cy="861.2" rx="9" ry="7" fill="none" stroke="#000" stroke-width="3.0" transform="rotate(20 938.8 861.2)"/>
<ellipse cx="938.0" cy="860.5" rx="4" ry="3" fill="none" stroke="#000" stroke-width="1.75" transform="rotate(20 938.0 860.5)"/>
<path d="M930 867.5 L927 877.5 L936.2 880.5 L940 870" fill="none" stroke="#000" stroke-width="2.25" />
<line x1="911.2" y1="843.8" x2="926.2" y2="853.8" stroke="#000" stroke-width="1.35"/>
<ellipse cx="973.0" cy="861.2" rx="5.5" ry="3.2" fill="none" stroke="#000" stroke-width="2.75" transform="rotate(15 973.0 861.2)"/>
<path d="M972 863.8 L970.5 870" fill="none" stroke="#000" stroke-width="3.0" />
<path d="M970.5 870 L950 927.5" fill="none" stroke="#000" stroke-width="1.15" />
<line x1="997.5" y1="840.0" x2="975.5" y2="859.5" stroke="#000" stroke-width="1.35"/>
<path d="M1071 812 L1074.5 812 L1074.5 817.5 L1073.5 817.5 L1073.5 823.8 L1072 823.8 L1072 817.5 L1071 817.5 Z" fill="#222" stroke="#000" stroke-width="1.75" />
<line x1="1075.5" y1="813.8" x2="1097.5" y2="813.8" stroke="#000" stroke-width="1.35"/>
<ellipse cx="1072.5" cy="838.8" rx="7" ry="5.2" fill="none" stroke="#000" stroke-width="3.75"/>
<line x1="1081.2" y1="838.8" x2="1121.2" y2="838.8" stroke="#000" stroke-width="1.35"/>
<ellipse cx="1071.8" cy="860.5" rx="7.5" ry="6.8" fill="none" stroke="#000" stroke-width="4.25"/>
<ellipse cx="1071.8" cy="859.5" rx="3" ry="2.2" fill="none" stroke="#000" stroke-width="1.35"/>
<line x1="1081.2" y1="862.5" x2="1097.5" y2="862.5" stroke="#000" stroke-width="1.35"/>
<line x1="1072.5" y1="823.8" x2="1072.5" y2="882.5" stroke="#000" stroke-width="1.15" stroke-dasharray="8 2 2 2"/>
<path d="M662.5 1180 C665.2 1181.0 666.5 1177.8 672.5 1183.8 C678.5 1189.8 678.3 1192.8 685 1202.5 C691.7 1212.2 689.5 1213.3 697.5 1220 C705.5 1226.7 705.0 1225.5 715 1227.5 C725.0 1229.5 725.7 1228.8 735 1227.5 C744.3 1226.2 742.0 1228.5 750 1222.5 C758.0 1216.5 757.7 1215.7 765 1205 C772.3 1194.3 770.8 1191.5 777.5 1182.5 C784.2 1173.5 780.0 1175.9 790 1171.2 C800.0 1166.5 801.7 1167.3 815 1165 C828.3 1162.7 833.3 1163.2 840 1162.5" fill="none" stroke="#000" stroke-width="4.75" />
<path d="M662.5 1180 C665.2 1181.0 666.5 1177.8 672.5 1183.8 C678.5 1189.8 678.3 1192.8 685 1202.5 C691.7 1212.2 689.5 1213.3 697.5 1220 C705.5 1226.7 705.0 1225.5 715 1227.5 C725.0 1229.5 725.7 1228.8 735 1227.5 C744.3 1226.2 742.0 1228.5 750 1222.5 C758.0 1216.5 757.7 1215.7 765 1205 C772.3 1194.3 770.8 1191.5 777.5 1182.5 C784.2 1173.5 780.0 1175.9 790 1171.2 C800.0 1166.5 801.7 1167.3 815 1165 C828.3 1162.7 833.3 1163.2 840 1162.5" fill="none" stroke="#fff" stroke-width="1.75" />
<line x1="847.5" y1="1162.5" x2="920.0" y2="1162.5" stroke="#000" stroke-width="1.15" stroke-dasharray="12 2 2 2"/>
<line x1="776.2" y1="1242.5" x2="762.5" y2="1215.0" stroke="#000" stroke-width="1.35"/>
<line x1="942.5" y1="1062" x2="942.5" y2="1125" stroke="#000" stroke-width="1.15" stroke-dasharray="10 2 2 2"/>
<circle cx="940.0" cy="1136.2" r="2.6" fill="#000"/>
<line x1="892.5" y1="1127.5" x2="937.5" y2="1135.5" stroke="#000" stroke-width="1.35"/>
<path d="M938 1144.5 L935.5 1158" fill="none" stroke="#000" stroke-width="3.0" />
<path d="M931.2 1159.5 L939.5 1161.2 L935.5 1178.8 L927.5 1177 Z" fill="#fff" stroke="#000" stroke-width="2.0" />
<path d="M932 1178.8 L931.2 1186.2" fill="none" stroke="#000" stroke-width="2.5" />
<path d="M922.5 1195 L927.5 1187.5 L943.8 1182.5 L946.2 1187.5 L943.8 1197.5 L937.5 1202.5 L923.8 1202.5 Z" fill="#222" stroke="#000" stroke-width="1.88" />
<path d="M930 1195 L940 1190" fill="none" stroke="#fff" stroke-width="2.5" />
<path d="M945 1199.5 L973.8 1205 L975 1207.5 L946.2 1203 Z" fill="#fff" stroke="#000" stroke-width="2.25" />
<line x1="927.5" y1="1202.5" x2="938.8" y2="1255.0" stroke="#000" stroke-width="1.15" stroke-dasharray="10 2 2 2"/>
<line x1="943.8" y1="1202.5" x2="962.5" y2="1280.0" stroke="#000" stroke-width="1.15" stroke-dasharray="10 2 2 2"/>
<ellipse cx="948.0" cy="1219.2" rx="4" ry="2.4" fill="#bbb" stroke="#000" stroke-width="1.75"/>
<ellipse cx="933.0" cy="1230.5" rx="4.4" ry="2.4" fill="#bbb" stroke="#000" stroke-width="1.75"/>
<ellipse cx="953.8" cy="1243.8" rx="2.6" ry="3.4" fill="none" stroke="#000" stroke-width="2.25"/>
<circle cx="953.8" cy="1247.0" r="2" fill="#000"/>
<ellipse cx="938.8" cy="1255.0" rx="2.6" ry="3.4" fill="none" stroke="#000" stroke-width="2.25"/>
<circle cx="938.8" cy="1258.2" r="2" fill="#000"/>
<line x1="900.0" y1="1245.0" x2="922.5" y2="1197.5" stroke="#000" stroke-width="1.35"/>
<line x1="976.2" y1="1227.5" x2="952.0" y2="1220.0" stroke="#000" stroke-width="1.35"/>
<line x1="976.2" y1="1229.2" x2="937.5" y2="1230.8" stroke="#000" stroke-width="1.35"/>
<path d="M976.2 1283.8 L962.5 1282.5 L955.5 1248" fill="none" stroke="#000" stroke-width="1.35" />
<line x1="962.5" y1="1282.5" x2="940.8" y2="1260.5" stroke="#000" stroke-width="1.35"/>
<path d="M1013.8 1087.5 C1015.2 1083.4 1015.6 1081.4 1020 1078.8 C1024.4 1076.2 1027.6 1075.9 1032.5 1076.2 C1037.4 1076.5 1039.0 1077.7 1041.2 1080 C1043.4 1082.3 1042.3 1083.0 1042 1086.2 C1041.7 1089.4 1042.8 1090.6 1040 1093.8 C1037.2 1097.0 1035.2 1098.6 1030 1100 C1024.8 1101.4 1021.3 1100.9 1017.5 1100 C1013.7 1099.1 1014.7 1099.1 1013.8 1096.2 C1012.9 1093.3 1012.4 1091.6 1013.8 1087.5 Z" fill="#fff" stroke="#000" stroke-width="3.0" />
<ellipse cx="1028.0" cy="1085.0" rx="11" ry="6.5" fill="none" stroke="#000" stroke-width="2.75" transform="rotate(-15 1028.0 1085.0)"/>
<path d="M1014.5 1091.2 C1015.4 1092.0 1017.2 1095.6 1020 1096.2 C1022.8 1096.8 1027.7 1096.2 1031.2 1095 C1034.7 1093.8 1039.5 1089.8 1041.2 1088.8" fill="none" stroke="#000" stroke-width="1.88" />
<path d="M1027.5 1065 L1027.5 1076.2" fill="none" stroke="#000" stroke-width="1.15" />
<path d="M993.8 1047.5 L1027.5 1065" fill="none" stroke="#000" stroke-width="1.15" />
<circle cx="1037.5" cy="1097.5" r="2.6" fill="#000"/>
<path d="M1041.2 1100 L1050 1104.5" fill="none" stroke="#000" stroke-width="1.15" stroke-dasharray="6 2"/>
<path d="M1051.2 1104.5 L1065 1111.2" fill="none" stroke="#000" stroke-width="4.0" stroke-dasharray="3 1.2"/>
<path d="M1072.5 1116.2 C1076.5 1117.5 1078.8 1117.5 1087.5 1121.2 C1096.2 1124.9 1097.0 1125.0 1105 1130 C1113.0 1135.0 1111.5 1135.7 1117.5 1140 C1123.5 1144.3 1124.8 1144.5 1127.5 1146.2" fill="none" stroke="#000" stroke-width="4.0" />
<path d="M1072.5 1116.2 C1076.5 1117.5 1078.8 1117.5 1087.5 1121.2 C1096.2 1124.9 1097.0 1125.0 1105 1130 C1113.0 1135.0 1111.5 1135.7 1117.5 1140 C1123.5 1144.3 1124.8 1144.5 1127.5 1146.2" fill="none" stroke="#fff" stroke-width="1.35" />
<line x1="1016.2" y1="1100.0" x2="1000.0" y2="1136.2" stroke="#000" stroke-width="1.35"/>
<line x1="1056.2" y1="1108.8" x2="1032.5" y2="1154.5" stroke="#000" stroke-width="1.35"/>
<line x1="1090.0" y1="1125.0" x2="1063.8" y2="1173.0" stroke="#000" stroke-width="1.35"/>
<path d="M508.8 755 C508.5 753.7 514.9 747.6 520 745 C525.1 742.4 546.7 734.5 552.5 732.5 C558.3 730.5 565.9 729.1 570 727.5 C574.1 725.9 583.4 720.1 587.5 718.8 C591.6 717.5 597.7 716.5 605 716.2 C612.3 715.9 640.1 716.3 650 716.2 C659.9 716.1 681.0 715.6 690 715 C699.0 714.4 718.8 712.7 727.5 711.2 C736.2 709.7 756.2 705.0 765 702.5 C773.8 700.0 794.3 692.8 802.5 690 C810.7 687.2 829.5 680.6 835 678.8 C840.5 677.0 848.0 674.7 850 674.5 C852.0 674.3 853.7 676.6 852.5 677.5 C851.3 678.4 844.4 680.8 840 682.5 C835.6 684.2 823.8 688.7 815 692.5 C806.2 696.3 773.8 711.5 765 715 C756.2 718.5 748.8 720.0 740 722.5 C731.2 725.0 701.7 733.0 690 736.2 C678.3 739.4 648.8 747.5 640 750 C631.2 752.5 618.5 754.0 615 757.5 C611.5 761.0 611.5 775.3 610 780 C608.5 784.7 604.2 794.3 602.5 797.5 C600.8 800.7 599.4 804.4 595 807.5 C590.6 810.6 568.6 824.1 565 823.8 C561.4 823.5 563.8 810.4 563.8 805 C563.8 799.6 565.2 782.2 565 777.5 C564.8 772.8 563.7 767.0 562.5 765 C561.3 763.0 557.6 760.7 555 760 C552.4 759.3 543.8 759.2 540 758.8 C536.2 758.4 526.1 756.6 522.5 756.2 C518.9 755.8 509.1 756.3 508.8 755 Z" fill="#fff" stroke="#000" stroke-width="3.75" />
<path d="M587.5 718.8 C585.4 721.1 577.9 729.0 575 732.5 C572.1 736.0 571.7 736.2 570 740 C568.3 743.8 565.8 752.5 565 755" fill="none" stroke="#000" stroke-width="3.25" />
<path d="M570 727.5 C568.3 730.0 565.8 738.3 560 742.5 C554.2 746.7 539.2 750.8 535 752.5" fill="none" stroke="#000" stroke-width="2.25" />
<path d="M575 735 L576.2 800" fill="none" stroke="#000" stroke-width="3.25" />
<path d="M586.2 740 L585 805" fill="none" stroke="#000" stroke-width="3.25" />
<path d="M576.2 736.2 L586.2 740" fill="none" stroke="#000" stroke-width="2.25" />
<path d="M586.2 735 L615 755" fill="none" stroke="#000" stroke-width="2.25" />
<path d="M590 730 C598.3 730.0 619.2 732.3 640 730 C660.8 727.7 687.9 722.2 715 716.2 C742.1 710.2 787.9 697.5 802.5 693.8" fill="none" stroke="#000" stroke-width="3.25" />
<path d="M590 740 C602.5 738.3 640.0 734.0 665 730 C690.0 726.0 715.0 721.8 740 716.2 C765.0 710.6 802.5 699.5 815 696.2" fill="none" stroke="#000" stroke-width="3.25" />
<path d="M615 752.5 C627.5 749.2 665.0 739.2 690 732.5 C715.0 725.8 744.2 719.0 765 712.5 C785.8 706.0 806.7 696.9 815 693.8" fill="none" stroke="#000" stroke-width="2.25" />
<path d="M595 735 C606.7 733.3 640.8 729.0 665 725 C689.2 721.0 711.7 718.5 740 711.2 C768.3 703.9 819.2 686.2 835 681.2" fill="none" stroke="#000" stroke-width="2.25" />
<path d="M587.5 727.5 C588.8 726.0 596.2 723.1 602.5 722.5 C608.8 721.9 619.6 722.5 625 723.8 C630.4 725.0 636.7 728.5 635 730 C633.3 731.5 621.7 732.3 615 732.5 C608.3 732.7 599.6 732.0 595 731.2 C590.4 730.4 586.2 729.0 587.5 727.5 Z" fill="none" stroke="#000" stroke-width="3.25" />
<path d="M600 765 L585 800" fill="none" stroke="#000" stroke-width="3.25" />
<path d="M615 740 L600 765" fill="none" stroke="#000" stroke-width="2.25" />
<path d="M607.5 760 L592.5 802.5" fill="none" stroke="#000" stroke-width="2.25" />
<path d="M567.5 805 L595 800 L600 795" fill="none" stroke="#000" stroke-width="2.25" />
<path d="M576.2 800 L585 805 L595 800" fill="none" stroke="#000" stroke-width="2.25" />
<path d="M567.5 777.5 L577.5 792.5 L585 795" fill="none" stroke="#000" stroke-width="2.25" />
<path d="M525 752.5 L555 743.8 L572.5 742.5" fill="none" stroke="#000" stroke-width="2.25" />
<path d="M542.5 755 L547.5 750" fill="none" stroke="#000" stroke-width="2.25" />
<path d="M727.5 715 L747.5 740 L753.8 742.5 L753.8 737.5 L736.2 713.8 Z" fill="#444" stroke="#000" stroke-width="2.5" />
<path d="M817.5 692.5 C818.3 693.4 820.6 697.4 822.5 698 C824.4 698.6 827.5 697.5 828.8 696.2 C830.0 694.9 829.8 691.0 830 690" fill="none" stroke="#000" stroke-width="3.0" />
<path d="M802.5 697.5 L807.5 702.5 L811.2 700" fill="none" stroke="#000" stroke-width="2.0" />
<circle cx="841.2" cy="654.5" r="4.2" fill="#000"/>
<line x1="833.8" y1="621.2" x2="840.0" y2="651.2" stroke="#000" stroke-width="1.35"/>
<line x1="840.0" y1="658.0" x2="832.5" y2="678.0" stroke="#000" stroke-width="1.15"/>
<line x1="637.5" y1="671.2" x2="648.8" y2="715.0" stroke="#000" stroke-width="1.35"/>
<circle cx="623.8" cy="785.0" r="4.6" fill="#000"/>
<line x1="632.5" y1="818.8" x2="625.0" y2="788.8" stroke="#000" stroke-width="1.35"/>
<path d="M640 720 L640 800 L626.2 788.8" fill="none" stroke="#000" stroke-width="1.15" />
<path d="M509 756 C515.0 756.8 536.0 759.0 545 760.5 C554.0 762.0 559.5 762.8 563 765 C566.5 767.2 565.8 764.5 566 774 C566.2 783.5 564.8 814.0 564.5 822" fill="none" stroke="#000" stroke-width="4.0" />
<path d="M570.5 730.5 C573.8 728.8 581.8 722.1 590 720 C598.2 717.9 610.0 718.3 620 717.8 C630.0 717.3 645.0 717.1 650 717" fill="none" stroke="#000" stroke-width="3.25" />
<path d="M584 727.5 C585.2 725.6 597.8 722.7 605 722.2 C612.2 721.7 622.5 723.1 627.5 724.5 C632.5 725.9 636.2 728.8 635 730.5 C633.8 732.2 626.2 734.5 620 735 C613.8 735.5 603.5 734.8 597.5 733.5 C591.5 732.2 582.8 729.4 584 727.5 Z" fill="none" stroke="#000" stroke-width="3.5" />
<path d="M575 735 L575 810" fill="none" stroke="#000" stroke-width="3.0" />
<path d="M584 739.5 L584 807" fill="none" stroke="#000" stroke-width="2.5" />
<path d="M614 739.5 L590 804" fill="none" stroke="#000" stroke-width="2.75" />
<path d="M617 756 L599 804 L584 814.5 L566 822" fill="none" stroke="#000" stroke-width="3.5" />
<path d="M585.5 750 L650 739.5 L725 720" fill="none" stroke="#000" stroke-width="3.0" />
<path d="M620 756 L680 741 L734 726" fill="none" stroke="#000" stroke-width="3.0" />
<path d="M533 750 L539 756" fill="none" stroke="#000" stroke-width="2.5" />
<path d="M543.5 748.5 L549.5 757.5" fill="none" stroke="#000" stroke-width="2.5" />
<path d="M560 747 L564.5 762" fill="none" stroke="#000" stroke-width="2.5" />
<path d="M572 780 L584 795 L590 804" fill="none" stroke="#000" stroke-width="2.25" />
<line x1="265.0" y1="806.2" x2="327.5" y2="840.0" stroke="#000" stroke-width="1.15"/>
<line x1="452.5" y1="883.8" x2="515.0" y2="887.5" stroke="#000" stroke-width="1.15"/>
<line x1="437.5" y1="905.0" x2="468.8" y2="922.5" stroke="#000" stroke-width="1.15" stroke-dasharray="8 2 2 2"/>
<line x1="475.0" y1="927.5" x2="503.8" y2="941.2" stroke="#000" stroke-width="1.15" stroke-dasharray="8 2 2 2"/>
<line x1="516.2" y1="950.0" x2="528.8" y2="957.0" stroke="#000" stroke-width="1.15" stroke-dasharray="4 2"/>
<line x1="430.0" y1="912.5" x2="455.0" y2="917.5" stroke="#000" stroke-width="1.15"/>
<path d="M385 759.5 C380.1 762.2 345.2 785.5 340 790 C334.8 794.5 333.8 800.0 332.5 805 C331.2 810.0 328.2 834.5 327.5 840 C326.8 845.5 325.8 856.8 325 860 C324.2 863.2 320.2 868.5 320 872.5 C319.8 876.5 322.0 894.8 322.5 900 C323.0 905.2 324.2 920.2 325 925 C325.8 929.8 328.5 944.6 330 947.5 C331.5 950.4 335.5 952.8 340 953.8 C344.5 954.8 370.2 956.4 375 957.5 C379.8 958.6 383.2 965.2 387.5 965 C391.8 964.8 414.1 956.8 417.5 955 C420.9 953.2 421.4 949.0 421.2 947.5 C420.9 946.0 417.6 940.8 415 940 C412.4 939.2 395.0 941.5 395 940 C395.0 938.5 411.0 928.0 415 925 C419.0 922.0 431.8 913.5 435 910 C438.2 906.5 446.0 893.0 447.5 890 C449.0 887.0 449.4 887.0 450 880 C450.6 873.0 453.6 826.9 453.8 820 C454.1 813.1 454.6 811.7 452.5 811.2 C450.4 810.7 436.0 815.1 432.5 815 C429.0 814.9 421.0 812.0 417.5 810 C414.0 808.0 400.6 798.0 397.5 795 C394.4 792.0 387.1 783.2 386.2 780 C385.3 776.8 388.9 764.5 388.8 762.5 C388.7 760.5 389.9 756.8 385 759.5 Z" fill="#fff" stroke="#000" stroke-width="2.88" />
<path d="M383.8 765 C383.4 767.9 379.5 776.7 381.2 782.5 C382.9 788.3 388.2 794.5 393.8 800 C399.4 805.5 409.0 812.1 415 815.5 C421.0 818.9 424.4 820.5 430 820.5 C435.6 820.5 445.7 816.3 448.8 815.5" fill="none" stroke="#000" stroke-width="2.88" />
<path d="M385 762.5 C381.2 765.8 369.0 774.6 362.5 782.5 C356.0 790.4 349.9 801.0 346.2 810 C342.4 819.0 341.0 831.8 340 836.2" fill="none" stroke="#000" stroke-width="2.88" />
<path d="M380 765.5 C376.7 769.0 366.0 778.4 360 786.2 C354.0 794.0 347.8 803.5 343.8 812.5 C339.8 821.5 338.5 831.7 336.2 840 C333.9 848.3 331.0 858.8 330 862.5" fill="none" stroke="#000" stroke-width="1.88" />
<path d="M340 790 C339.4 793.3 337.4 801.7 336.2 810 C334.9 818.3 333.9 831.7 332.5 840 C331.1 848.3 328.3 856.7 327.5 860" fill="none" stroke="#000" stroke-width="1.88" />
<path d="M330 862.5 L340 836.2 L363.8 826.2 L400 850 L398.8 872.5" fill="none" stroke="#000" stroke-width="3.62" />
<path d="M363.8 826.2 L360 832.5 L395 853.8 L400 850" fill="none" stroke="#000" stroke-width="1.88" />
<path d="M360 832.5 L345 840" fill="none" stroke="#000" stroke-width="1.88" />
<path d="M450 812.5 L415 855 L380 892.5" fill="none" stroke="#000" stroke-width="3.62" />
<path d="M446.2 817.5 L375 890" fill="none" stroke="#000" stroke-width="1.88" />
<path d="M407.5 800 L350 877.5" fill="none" stroke="#000" stroke-width="1.75" />
<path d="M330 862.5 C333.3 865.8 341.7 876.7 350 882.5 C358.3 888.3 373.3 892.9 380 897.5 C386.7 902.1 389.2 906.7 390 910 C390.8 913.3 387.9 913.3 385 917.5 C382.1 921.7 380.0 931.2 372.5 935 C365.0 938.8 346.9 938.1 340 940 C333.1 941.9 332.7 945.2 331.2 946.2" fill="none" stroke="#000" stroke-width="3.37" />
<path d="M327.5 875 C328.3 881.2 330.4 901.9 332.5 912.5 C334.6 923.1 338.8 934.4 340 938.8" fill="none" stroke="#000" stroke-width="2.88" />
<path d="M332.5 872.5 C333.2 878.8 334.9 899.6 337 910 C339.1 920.4 343.7 930.8 345 935" fill="none" stroke="#000" stroke-width="1.88" />
<path d="M385 917.5 L375 912.5 L370 932.5" fill="none" stroke="#000" stroke-width="1.88" />
<path d="M380 892.5 C385.4 889.6 403.3 879.2 412.5 875 C421.7 870.8 430.4 867.5 435 867.5 C439.6 867.5 439.8 870.8 440 875 C440.2 879.2 436.8 889.6 436.2 892.5" fill="none" stroke="#000" stroke-width="2.88" />
<path d="M392.5 902.5 C396.2 900.8 408.3 894.6 415 892.5 C421.7 890.4 428.3 892.1 432.5 890 C436.7 887.9 438.8 881.7 440 880" fill="none" stroke="#000" stroke-width="2.88" />
<path d="M405 915 C406.2 912.5 409.2 903.3 412.5 900 C415.8 896.7 421.7 895.0 425 895 C428.3 895.0 433.3 897.1 432.5 900 C431.7 902.9 422.1 910.4 420 912.5" fill="none" stroke="#000" stroke-width="2.88" />
<path d="M397.5 937.5 C400.4 934.6 409.2 925.4 415 920 C420.8 914.6 429.6 907.5 432.5 905" fill="none" stroke="#000" stroke-width="1.88" />
<path d="M390 920 C391.7 917.9 395.4 910.8 400 907.5 C404.6 904.2 414.6 901.2 417.5 900" fill="none" stroke="#000" stroke-width="1.88" />
<path d="M395 897.5 L400 900 L401.2 896.2" fill="none" stroke="#000" stroke-width="2.88" />
<path d="M425 875 C424.2 877.5 422.1 885.8 420 890 C417.9 894.2 413.8 898.3 412.5 900" fill="none" stroke="#000" stroke-width="1.88" />
<path d="M335 946.2 C341.7 944.8 362.9 939.0 375 937.5 C387.1 936.0 400.0 936.0 407.5 937.5 C415.0 939.0 417.9 944.8 420 946.2" fill="none" stroke="#000" stroke-width="2.88" />
<path d="M380 950 C383.8 948.7 402.1 947.3 407.5 947.5 C412.9 947.7 416.2 949.9 412.5 951.2 C408.8 952.5 390.4 955.7 385 955.5 C379.6 955.3 376.2 951.3 380 950 Z" fill="none" stroke="#000" stroke-width="1.88" />
<path d="M340 950 C345.8 948.8 365.0 943.8 375 942.5 C385.0 941.2 395.8 942.5 400 942.5" fill="none" stroke="#000" stroke-width="1.88" />
<path d="M326.2 950 L328.8 953.8" fill="none" stroke="#000" stroke-width="3.75" />
<path d="M345 958.8 L346.2 963.8" fill="none" stroke="#000" stroke-width="3.75" />
<line x1="328.8" y1="953.8" x2="310.0" y2="1000.0" stroke="#000" stroke-width="1.15"/>
<line x1="346.2" y1="963.8" x2="330.0" y2="1000.0" stroke="#000" stroke-width="1.15"/>
<path d="M275 813.8 L281.2 806.2 L288.8 808.8 L288.8 816.2 L283.8 821.2 L276.2 820 Z" fill="#fff" stroke="#000" stroke-width="2.25" />
<path d="M281.2 813.8 L287.5 810" fill="none" stroke="#000" stroke-width="1.75" />
<path d="M281.2 813.8 L280.5 820" fill="none" stroke="#000" stroke-width="1.75" />
<circle cx="261.5" cy="803.5" r="3.6" fill="#000"/>
<line x1="245.0" y1="755.5" x2="260.8" y2="800.0" stroke="#000" stroke-width="1.35"/>
<line x1="276.2" y1="756.2" x2="285.0" y2="807.5" stroke="#000" stroke-width="1.35"/>
<line x1="316.2" y1="753.8" x2="340.0" y2="790.0" stroke="#000" stroke-width="1.35"/>
<circle cx="468.8" cy="889.2" r="1.8" fill="#000"/>
<path d="M467.5 920 L512.5 888.8 L518.8 887.5 L518.8 900 L475 927.5 L468.8 926.2 Z" fill="#fff" stroke="#000" stroke-width="2.5" />
<path d="M510 891.2 L510 905.5" fill="none" stroke="#000" stroke-width="2.0" />
<path d="M510 891.2 L518.8 888" fill="none" stroke="#000" stroke-width="1.35" />
<line x1="500.0" y1="850.0" x2="470.0" y2="887.5" stroke="#000" stroke-width="1.35"/>
<line x1="532.5" y1="851.2" x2="490.0" y2="907.5" stroke="#000" stroke-width="1.35"/>
<path d="M503.8 943.8 L510 937 L517.5 938.8 L518 946.2 L512.5 952.5 L505.5 951.2 Z" fill="#fff" stroke="#000" stroke-width="2.25" />
<path d="M510 944.5 L517 940" fill="none" stroke="#000" stroke-width="1.75" />
<path d="M510 944.5 L510 951.2" fill="none" stroke="#000" stroke-width="1.75" />
<ellipse cx="530.0" cy="957.5" rx="2.6" ry="2.6" fill="none" stroke="#000" stroke-width="2.0"/>
<line x1="540.0" y1="910.0" x2="513.8" y2="940.0" stroke="#000" stroke-width="1.35"/>
<line x1="572.5" y1="910.0" x2="531.2" y2="955.0" stroke="#000" stroke-width="1.35"/>
<path d="M347.5 795 C346.3 798.8 342.2 810.2 340.5 817.5 C338.8 824.8 337.6 835.2 337 838.8" fill="none" stroke="#000" stroke-width="1.88" />
<path d="M448.8 817.5 L446.2 850 L445.5 880" fill="none" stroke="#000" stroke-width="1.88" />
<path d="M325 860 C325.6 865.0 327.1 879.2 328.8 890 C330.5 900.8 333.1 915.6 335 925 C336.9 934.4 339.2 942.7 340 946.2" fill="none" stroke="#000" stroke-width="1.88" />
<path d="M363.8 826.2 L362.5 831.2" fill="none" stroke="#000" stroke-width="1.88" />
<path d="M345 840 L392.5 860 L397.5 875" fill="none" stroke="#000" stroke-width="1.88" />
<path d="M340 836.2 L350 875" fill="none" stroke="#000" stroke-width="1.88" />
<path d="M386.2 780 C384.3 783.3 379.4 792.5 375 800 C370.6 807.5 362.5 820.8 360 825" fill="none" stroke="#000" stroke-width="1.88" />
<path d="M417.5 810 C415.8 813.3 412.1 822.5 407.5 830 C402.9 837.5 392.9 850.8 390 855" fill="none" stroke="#000" stroke-width="1.88" />
<path d="M320 872.5 L317.5 890 L320 907.5" fill="none" stroke="#000" stroke-width="2.88" />
<path d="M380 897.5 L375 915 L372.5 935" fill="none" stroke="#000" stroke-width="2.88" />
<path d="M350 882.5 C353.3 885.4 365.8 895.0 370 900 C374.2 905.0 374.2 910.4 375 912.5" fill="none" stroke="#000" stroke-width="1.88" />
<path d="M303.2 974.1 C298.5 977.2 282.8 995.1 277 1000.4 C271.2 1005.6 250.2 1022.1 245.5 1026.6 C240.8 1031.1 233.2 1040.8 229.8 1045 C226.4 1049.2 214.8 1063.3 211.4 1068.6 C208.0 1073.8 199.0 1091.5 195.6 1097.5 C192.2 1103.5 180.6 1123.5 177.2 1129 C173.8 1134.5 164.2 1148.4 161.5 1152.6 C158.8 1156.8 150.6 1168.2 149.7 1171 C148.8 1173.8 151.5 1178.5 152.3 1180.2 C153.1 1181.9 155.1 1187.2 157.6 1188.1 C160.1 1189.0 173.1 1189.9 177.2 1189.4 C181.3 1188.9 194.0 1184.6 198.2 1182.8 C202.4 1181.0 214.5 1174.5 219.2 1171 C223.9 1167.5 240.2 1152.4 245.5 1147.4 C250.8 1142.4 267.6 1125.0 271.8 1121.1 C276.0 1117.2 283.3 1111.2 287.5 1108 C291.7 1104.8 308.6 1093.5 313.8 1089.6 C319.1 1085.7 334.8 1072.8 340 1068.6 C345.2 1064.4 362.3 1050.3 366.2 1047.6 C370.1 1044.8 374.1 1042.1 379.4 1041.1 C384.7 1040.0 413.6 1037.4 418.8 1037.1 C424.1 1036.8 429.3 1037.9 431.9 1038.4 C434.5 1038.9 439.8 1041.2 445 1042.4 C450.2 1043.6 477.3 1048.9 484.4 1050.2 C491.5 1051.5 512.2 1055.8 515.9 1055.5 C519.6 1055.2 522.9 1050.2 521.1 1047.6 C519.3 1045.0 503.8 1033.4 497.5 1029.2 C491.2 1025.0 466.0 1009.5 458.1 1005.6 C450.2 1001.7 425.4 992.4 418.8 989.9 C412.2 987.4 396.4 981.9 392.5 980.7 C388.6 979.5 382.0 977.8 379.4 978.1 C376.8 978.4 370.1 981.9 366.2 983.3 C362.3 984.7 343.1 992.6 340 992.5 C336.9 992.4 335.6 984.2 334.8 982 C334.0 979.8 333.2 971.5 332.1 970.2 C331.0 968.9 327.1 968.5 324.2 968.9 C321.3 969.3 307.9 971.0 303.2 974.1 Z" fill="#fff" stroke="#000" stroke-width="2.75" />
<path d="M300.6 978.1 C294.0 984.9 272.6 1006.8 261.2 1018.8 C249.8 1030.8 241.1 1038.8 232.4 1050.2 C223.7 1061.6 217.1 1073.4 208.8 1087 C200.5 1100.6 190.8 1117.6 182.5 1131.6 C174.2 1145.6 163.1 1161.6 158.9 1171 C154.8 1180.4 157.8 1185.2 157.6 1188.1" fill="none" stroke="#000" stroke-width="1.88" />
<path d="M261.2 1039.8 L303.2 1010.9 L313.8 1001.7" fill="none" stroke="#000" stroke-width="1.88" />
<path d="M263.9 1097.5 L282.2 1104.1 L298 1094.9" fill="none" stroke="#000" stroke-width="1.88" />
<path d="M292.8 1066 L298 1087" fill="none" stroke="#000" stroke-width="1.88" />
<path d="M311.1 974.1 L317.7 979.4 L313.8 1000.4 L324.2 1003 L332.1 984.6" fill="none" stroke="#000" stroke-width="2.75" />
<path d="M317.7 979.4 L325.6 976.8 L332.1 970.2" fill="none" stroke="#000" stroke-width="1.88" />
<ellipse cx="309.8" cy="995.1" rx="3.6" ry="3.6" fill="none" stroke="#000" stroke-width="2.0"/>
<path d="M366.2 1000.4 C370.6 999.7 383.7 995.5 392.5 996.4 C401.3 997.3 410.1 1001.0 418.8 1005.6 C427.6 1010.2 436.3 1018.8 445 1024 C453.7 1029.2 459.4 1032.3 471.2 1037.1 C483.0 1041.9 508.4 1050.3 515.9 1052.9" fill="none" stroke="#000" stroke-width="2.75" />
<path d="M418.8 1000.4 C425.4 1003.0 444.1 1009.1 458.1 1016.1 C472.1 1023.1 492.7 1037.1 502.8 1042.4 C512.9 1047.8 515.9 1047.2 518.5 1048.2" fill="none" stroke="#000" stroke-width="4.25" />
<path d="M392.5 982 C399.1 984.4 418.8 990.9 431.9 996.4 C445.0 1001.9 458.5 1008.0 471.2 1014.8 C483.9 1021.6 501.9 1033.4 508 1037.1" fill="none" stroke="#000" stroke-width="1.88" />
<path d="M379.4 1018.8 L413.5 1008.2" fill="none" stroke="#000" stroke-width="1.88" />
<path d="M418.8 1008.2 L418.8 1037.1" fill="none" stroke="#000" stroke-width="1.88" />
<path d="M439.8 1018.8 L445 1042.4" fill="none" stroke="#000" stroke-width="1.88" />
<path d="M361 1005.6 L366.2 1000.4 L368.9 1018.8 L358.4 1029.2" fill="none" stroke="#000" stroke-width="2.75" />
<path d="M371.5 992.5 L397.8 987.2" fill="none" stroke="#000" stroke-width="1.88" />
<path d="M374.1 1000.4 L400.4 993.8 L413.5 1000.4" fill="none" stroke="#000" stroke-width="1.88" />
<ellipse cx="376.8" cy="988.6" rx="3" ry="1.8" fill="#222" stroke="#000" stroke-width="1.15"/>
<ellipse cx="385.9" cy="1003.0" rx="3" ry="1.8" fill="#222" stroke="#000" stroke-width="1.15"/>
<ellipse cx="400.4" cy="1004.3" rx="3" ry="1.8" fill="#222" stroke="#000" stroke-width="1.15"/>
<path d="M447.6 1026.6 L471.2 1038.4 L508 1050.2" fill="none" stroke="#000" stroke-width="2.75" />
<line x1="313.8" y1="1107.2" x2="355.8" y2="1018.8" stroke="#000" stroke-width="1.15" stroke-dasharray="8 2 2 2"/>
<circle cx="313.8" cy="1109.3" r="3.6" fill="#000"/>
<line x1="304.6" y1="1150.0" x2="313.8" y2="1111.4" stroke="#000" stroke-width="1.35"/>
<line x1="326.9" y1="1104.6" x2="367.6" y2="1018.8" stroke="#000" stroke-width="1.15" stroke-dasharray="8 2 2 2"/>
<circle cx="326.9" cy="1106.7" r="3.6" fill="#000"/>
<line x1="304.6" y1="1150.0" x2="326.9" y2="1108.8" stroke="#000" stroke-width="1.35"/>
<line x1="338.7" y1="1124.3" x2="385.9" y2="1005.6" stroke="#000" stroke-width="1.15" stroke-dasharray="8 2 2 2"/>
<circle cx="338.7" cy="1126.4" r="3.6" fill="#000"/>
<line x1="304.6" y1="1150.0" x2="338.7" y2="1128.5" stroke="#000" stroke-width="1.35"/>
<line x1="351.8" y1="1120.3" x2="400.4" y2="1005.6" stroke="#000" stroke-width="1.15" stroke-dasharray="8 2 2 2"/>
<circle cx="351.8" cy="1122.4" r="3.6" fill="#000"/>
<line x1="304.6" y1="1150.0" x2="351.8" y2="1124.5" stroke="#000" stroke-width="1.35"/>
<path d="M212.7 1184.1 L233.7 1195.9 L232.4 1199.3 L211.4 1187.3 Z" fill="#fff" stroke="#000" stroke-width="2.0" />
<line x1="195.6" y1="1222.2" x2="220.6" y2="1192.5" stroke="#000" stroke-width="1.35"/>
<line x1="220.6" y1="996.4" x2="245.5" y2="1024.0" stroke="#000" stroke-width="1.35"/>
<path d="M390.9 982.7 C398.4 985.4 420.8 992.2 436.2 999.1 C451.6 1006.0 470.1 1016.4 483.1 1024.1 C496.1 1031.8 509.2 1041.7 514.4 1045.2" fill="none" stroke="#000" stroke-width="4.5" />
<path d="M422.2 1000.6 C427.1 1001.9 441.8 1004.2 451.9 1008.4 C462.0 1012.6 473.0 1019.3 483.1 1025.6 C493.2 1031.8 507.8 1042.5 512.8 1045.9" fill="none" stroke="#000" stroke-width="4.25" />
<path d="M445.6 1020.9 C450.6 1022.5 464.4 1025.6 475.3 1030.3 C486.2 1035.0 505.2 1046.0 511.2 1049.1" fill="none" stroke="#000" stroke-width="3.75" />
<path d="M369.1 1000.6 C374.6 999.0 395.1 992.0 401.9 991.2 C408.7 990.4 406.6 993.3 409.7 995.9 C412.8 998.5 416.2 1003.0 420.6 1006.9 C425.0 1010.8 432.3 1015.5 436.2 1019.4 C440.1 1023.3 442.5 1026.7 444.1 1030.3 C445.7 1033.9 445.4 1039.4 445.6 1041.2" fill="none" stroke="#000" stroke-width="2.38" />
<path d="M373.8 1020.9 C378.0 1019.6 391.5 1015.2 398.8 1013.1 C406.1 1011.0 414.4 1009.2 417.5 1008.4" fill="none" stroke="#000" stroke-width="2.38" />
<path d="M370.6 1003.8 L373.8 1020.9 L375.3 1042.8" fill="none" stroke="#000" stroke-width="2.38" />
<path d="M415.9 1010 L417.5 1038.1" fill="none" stroke="#000" stroke-width="2.38" />
<path d="M436.2 1019.4 L437.8 1039.7" fill="none" stroke="#000" stroke-width="2.38" />
<path d="M355 1011.6 L364.4 999.1 L367.5 999.1 L367.5 1025.6 L358.1 1041.2 L356.6 1060 Z" fill="none" stroke="#000" stroke-width="2.75" />
<path d="M355 1006.9 L298.8 1081.9" fill="none" stroke="#000" stroke-width="4.75" />
<path d="M339.4 1000.6 L280 1069.4" fill="none" stroke="#000" stroke-width="3.75" />
<path d="M303.4 1089.7 L295.6 1094.4 L280 1106.9" fill="none" stroke="#000" stroke-width="2.75" />
<path d="M294.1 1069.4 L300.3 1078.8" fill="none" stroke="#000" stroke-width="2.25" />
<path d="M335 1002.2 C327.2 1007.1 265.3 1045.6 257 1051 C248.7 1056.4 257.3 1048.8 252.1 1055.9 C246.9 1063.1 214.6 1109.5 205 1122.5 C195.4 1135.5 161.1 1179.6 156.2 1185.9" fill="none" stroke="#000" stroke-width="3.5" />
<path d="M343.1 1002.2 C339.0 1005.8 308.8 1030.8 302.5 1038 C296.2 1045.2 283.5 1068.6 279.8 1073.8 C276.1 1079.0 271.0 1083.2 265.1 1090 C259.2 1096.8 229.6 1132.2 221.2 1142 C212.8 1151.8 184.7 1183.0 180.6 1187.5" fill="none" stroke="#000" stroke-width="3.75" />
<path d="M356.1 1013.6 C350.1 1021.2 303.3 1080.7 296 1090 C288.7 1099.3 288.0 1100.8 283 1106.2 C278.0 1111.6 252.6 1136.8 245.6 1143.6 C238.6 1150.4 216.3 1171.4 213.1 1174.5" fill="none" stroke="#000" stroke-width="3.0" />
<path d="M302.5 976.2 L274.9 1015.2 L257 1051" fill="none" stroke="#000" stroke-width="2.5" />
<path d="M234.2 1041.2 L253.8 1052.6 L279.8 1072.1" fill="none" stroke="#000" stroke-width="2.75" />
<path d="M219.6 1055.9 L240.8 1067.2 L266.8 1088.4" fill="none" stroke="#000" stroke-width="4.0" />
<path d="M261.9 1101.4 L279.8 1104.6 L283 1107.9" fill="none" stroke="#000" stroke-width="2.25" />
<path d="M289.5 1067.2 L299.2 1080.2" fill="none" stroke="#000" stroke-width="2.25" />
<path d="M304.1 974.6 C299.6 978.7 279.3 996.8 270 1005.5 C260.7 1014.2 242.0 1031.6 234.2 1039.6 C226.4 1047.6 217.6 1056.7 211.5 1065.6 C205.4 1074.5 195.1 1095.8 188.8 1106.2 C182.5 1116.6 169.7 1135.1 164.4 1143.6 C159.1 1152.1 151.0 1166.1 148.9 1169.6" fill="none" stroke="#000" stroke-width="3.25" />
<line x1="430.0" y1="1128.0" x2="492.0" y2="1124.0" stroke="#000" stroke-width="1.15"/>
<line x1="442.0" y1="1134.4" x2="492.0" y2="1132.0" stroke="#000" stroke-width="1.15"/>
<path d="M506 1101.6 C507.5 1101.5 510.1 1101.8 512 1104 C513.9 1106.2 518.0 1113.5 520 1118 C522.0 1122.5 525.9 1132.4 527 1138 C528.1 1143.6 528.4 1153.9 528 1160 C527.6 1166.1 525.3 1177.3 524 1184 C522.7 1190.7 519.6 1203.6 518 1210 C516.4 1216.4 513.9 1225.3 512 1232 C510.1 1238.7 506.4 1254.4 504 1260 C501.6 1265.6 496.1 1271.3 494 1274 C491.9 1276.7 489.3 1276.9 488 1280 C486.7 1283.1 485.9 1294.9 484 1297 C482.1 1299.1 479.6 1297.5 474 1296 C468.4 1294.5 446.4 1288.1 442 1286 C437.6 1283.9 440.2 1283.5 441 1280 C441.8 1276.5 444.9 1268.5 448 1260 C451.1 1251.5 459.7 1228.0 464 1216 C468.3 1204.0 476.3 1180.7 480 1170 C483.7 1159.3 489.6 1143.2 492 1136 C494.4 1128.8 496.8 1120.1 498 1116 C499.2 1111.9 499.9 1106.9 501 1105 C502.1 1103.1 504.5 1101.7 506 1101.6 Z" fill="#fff" stroke="#000" stroke-width="2.75" />
<path d="M500 1108 C497.7 1116.0 491.3 1139.3 486 1156 C480.7 1172.7 474.7 1188.7 468 1208 C461.3 1227.3 449.7 1261.3 446 1272" fill="none" stroke="#000" stroke-width="3.5" />
<path d="M503.6 1110 C501.3 1118.0 494.9 1141.3 489.6 1158 C484.3 1174.7 478.3 1190.2 471.6 1210 C464.9 1229.8 453.3 1265.8 449.6 1277" fill="none" stroke="#000" stroke-width="1.88" />
<path d="M510 1112 C508.3 1118.3 504.3 1135.3 500 1150 C495.7 1164.7 490.0 1182.3 484 1200 C478.0 1217.7 468.7 1242.3 464 1256 C459.3 1269.7 457.3 1277.7 456 1282" fill="none" stroke="#000" stroke-width="2.75" />
<path d="M514 1120 C512.3 1126.7 508.3 1145.3 504 1160 C499.7 1174.7 494.0 1191.3 488 1208 C482.0 1224.7 472.3 1247.3 468 1260 C463.7 1272.7 463.0 1280.0 462 1284" fill="none" stroke="#000" stroke-width="1.88" />
<path d="M498 1142 C500.3 1142.7 507.3 1145.7 512 1146.4 C516.7 1147.1 523.7 1146.1 526 1146" fill="none" stroke="#000" stroke-width="1.88" />
<path d="M489 1168 C491.5 1169.2 498.0 1173.6 504 1175 C510.0 1176.4 521.5 1176.2 525 1176.4" fill="none" stroke="#000" stroke-width="1.88" />
<path d="M494 1157 C496.3 1157.5 502.4 1160.2 508 1160 C513.6 1159.8 524.3 1156.3 527.6 1155.6" fill="none" stroke="#000" stroke-width="1.88" />
<path d="M460 1288 C462.7 1287.3 470.7 1286.7 476 1284 C481.3 1281.3 488.0 1276.0 492 1272 C496.0 1268.0 497.3 1265.3 500 1260 C502.7 1254.7 506.7 1243.3 508 1240" fill="none" stroke="#000" stroke-width="1.88" />
<path d="M442 1280 C445.0 1281.3 453.0 1285.7 460 1288 C467.0 1290.3 480.0 1293.0 484 1294" fill="none" stroke="#000" stroke-width="2.75" />
<path d="M492 1117 L496 1116 L497 1130 L492 1130 Z" fill="none" stroke="#000" stroke-width="2.25" />
<path d="M505 1125 L516 1127 L516 1138 L505 1136 Z" fill="none" stroke="#000" stroke-width="2.25" />
<path d="M510 1126 L510 1137" fill="none" stroke="#000" stroke-width="1.75" />
<path d="M457 1298 L468 1299 L468 1306 L458 1305 Z" fill="#fff" stroke="#000" stroke-width="2.25" />
<ellipse cx="463.0" cy="1301.6" rx="3" ry="3" fill="none" stroke="#000" stroke-width="1.75"/>
<path d="M474 1302 L480 1300 L478 1307" fill="none" stroke="#000" stroke-width="3.25" />
<path d="M440 1288 L441 1295" fill="none" stroke="#000" stroke-width="3.0" />
<circle cx="405.0" cy="1278.0" r="4" fill="#000"/>
<circle cx="463.0" cy="1341.6" r="5.2" fill="#000"/>
<circle cx="516.0" cy="1318.0" r="4" fill="#000"/>
<line x1="412.0" y1="1280.0" x2="440.0" y2="1288.0" stroke="#000" stroke-width="1.15" stroke-dasharray="8 2 2 2"/>
<line x1="464.0" y1="1306.0" x2="464.0" y2="1338.0" stroke="#000" stroke-width="1.15" stroke-dasharray="8 2 2 2"/>
<line x1="480.0" y1="1304.0" x2="510.0" y2="1316.0" stroke="#000" stroke-width="1.15" stroke-dasharray="8 2 2 2"/>
<line x1="417.0" y1="1331.0" x2="406.0" y2="1282.0" stroke="#000" stroke-width="1.35"/>
<line x1="427.0" y1="1344.0" x2="509.0" y2="1318.4" stroke="#000" stroke-width="1.35"/>
<line x1="427.0" y1="1346.0" x2="458.0" y2="1344.4" stroke="#000" stroke-width="1.35"/>
<line x1="549.0" y1="1230.0" x2="516.0" y2="1221.0" stroke="#000" stroke-width="1.35"/>
<circle cx="425.0" cy="1128.0" r="2.4" fill="#000"/>
<circle cx="438.0" cy="1135.0" r="2.4" fill="#000"/>
<path d="M457 1123 L460 1120 L471 1130 L470.4 1138 L467 1139 L457.6 1131 Z" fill="#fff" stroke="#000" stroke-width="2.25" />
<path d="M460 1120 L461 1130 L470.4 1138" fill="none" stroke="#000" stroke-width="1.75" />
<path d="M461 1130 L457.6 1131" fill="none" stroke="#000" stroke-width="1.75" />
<line x1="406.0" y1="1140.0" x2="423.0" y2="1129.4" stroke="#000" stroke-width="1.35"/>
<line x1="408.0" y1="1143.6" x2="436.0" y2="1136.0" stroke="#000" stroke-width="1.35"/>
<line x1="8.2" y1="942.1" x2="44.0" y2="957.2" stroke="#000" stroke-width="1.15" stroke-dasharray="8 2 2 2"/>
<path d="M112.7 771.6 C115.1 771.8 121.6 773.7 123.7 775.7 C125.8 777.7 128.3 782.3 128.7 786.7 C129.1 791.1 128.3 801.0 126.5 808.7 C124.7 816.4 119.2 833.1 115.5 844.5 C111.8 855.9 103.0 882.3 99 894 C95.0 905.7 88.1 924.5 85.2 932.4 C82.3 940.3 78.5 949.1 77 953.1 C75.5 957.1 78.6 962.3 74.2 962.7 C69.8 963.1 48.0 957.8 44 955.8 C40.0 953.8 42.5 952.9 44 947.6 C45.5 942.3 51.3 926.7 55 915.9 C58.7 905.1 67.1 879.3 71.5 866.5 C75.9 853.7 84.3 830.3 88 819.7 C91.7 809.1 96.6 792.7 99 786.7 C101.4 780.7 104.0 776.4 105.8 774.4 C107.6 772.4 110.3 771.4 112.7 771.6 Z" fill="#fff" stroke="#000" stroke-width="2.75" />
<path d="M108.6 775.7 C105.8 783.5 97.8 806.5 92.1 822.5 C86.4 838.5 80.2 855.5 74.2 872 C68.2 888.5 61.0 908.6 56.4 921.4 C51.8 934.2 48.3 944.3 46.7 948.9" fill="none" stroke="#000" stroke-width="3.75" />
<path d="M114.1 778.5 C111.1 786.8 102.2 811.5 96.2 828 C90.2 844.5 84.4 861.0 78.4 877.5 C72.5 894.0 64.9 914.5 60.5 926.9 C56.1 939.3 53.6 947.6 52.2 951.7" fill="none" stroke="#000" stroke-width="1.88" />
<path d="M121 786.7 C118.7 794.5 112.2 817.5 107.2 833.5 C102.2 849.5 96.2 866.5 90.7 883 C85.2 899.5 78.3 920.0 74.2 932.4 C70.1 944.8 67.4 953.1 66 957.2" fill="none" stroke="#000" stroke-width="1.88" />
<path d="M44 951.7 L74.2 958.6" fill="none" stroke="#000" stroke-width="2.75" />
<path d="M61.9 964.1 L72.9 965.4 L72.9 972.3 L62.7 970.9 Z" fill="#fff" stroke="#000" stroke-width="2.25" />
<ellipse cx="67.4" cy="968.2" rx="2.4" ry="2.4" fill="none" stroke="#000" stroke-width="1.62"/>
<path d="M70.1 955 L77 953.1 L77 964.1 L70.9 965.4 Z" fill="#fff" stroke="#000" stroke-width="2.25" />
<ellipse cx="73.7" cy="959.4" rx="2.2" ry="2.2" fill="none" stroke="#000" stroke-width="1.62"/>
<path d="M42.6 957.2 L43.4 961.3" fill="none" stroke="#000" stroke-width="3.0" />
<circle cx="4.1" cy="940.7" r="4" fill="#000"/>
<circle cx="88.0" cy="953.1" r="5.5" fill="#000"/>
<circle cx="65.4" cy="999.8" r="5.5" fill="#000"/>
<line x1="66.0" y1="973.7" x2="66.0" y2="994.3" stroke="#000" stroke-width="1.15" stroke-dasharray="8 2 2 2"/>
<line x1="105.8" y1="991.5" x2="89.3" y2="958.6" stroke="#000" stroke-width="1.35"/>
<line x1="103.1" y1="997.0" x2="9.6" y2="944.0" stroke="#000" stroke-width="1.35"/>
<line x1="101.7" y1="1001.2" x2="71.5" y2="1000.6" stroke="#000" stroke-width="1.35"/>
<line x1="38.5" y1="856.8" x2="68.7" y2="868.7" stroke="#000" stroke-width="1.35"/>
<path d="M60.5 1094.6 L81.1 1107 L79.7 1110.6 L59.9 1097.9 Z" fill="#fff" stroke="#000" stroke-width="2.0" />
<line x1="44.0" y1="1131.8" x2="68.7" y2="1104.3" stroke="#000" stroke-width="1.35"/>
<path d="M1152.8 1075 C1152.4 1073.3 1154.8 1072.9 1156 1072.9 C1157.2 1072.9 1161.5 1072.7 1164.5 1075 C1167.5 1077.3 1179.0 1094.5 1185.8 1096.2 C1192.6 1097.9 1223.6 1093.3 1232.5 1092 C1241.4 1090.7 1266.8 1085.1 1275 1083.5 C1283.2 1081.9 1310.2 1076.5 1314.3 1076.1 C1318.4 1075.7 1316.5 1078.5 1316.4 1079.2 C1316.3 1079.9 1315.2 1081.4 1313.2 1083.5 C1311.2 1085.6 1299.6 1097.6 1296.2 1100.5 C1292.8 1103.4 1282.4 1109.7 1279.2 1112.2 C1276.0 1114.8 1269.1 1122.1 1264.4 1126 C1259.7 1129.9 1237.2 1148.1 1232.5 1151.5 C1227.8 1154.9 1220.8 1157.0 1217.6 1160 C1214.4 1163.0 1205.5 1175.2 1200.6 1181.2 C1195.7 1187.2 1173.7 1213.8 1168.8 1219.5 C1163.9 1225.2 1154.8 1234.6 1151.8 1238.6 C1148.8 1242.6 1141.1 1255.0 1139 1259.9 C1136.9 1264.8 1132.2 1283.5 1130.5 1287.5 C1128.8 1291.5 1124.5 1297.5 1122 1300.2 C1119.5 1302.9 1107.0 1313.2 1105 1314.1 C1103.0 1315.0 1101.4 1311.9 1101.8 1308.8 C1102.2 1305.7 1108.2 1287.5 1109.2 1283.2 C1110.2 1278.9 1113.9 1268.2 1111.4 1266.2 C1108.9 1264.2 1089.3 1263.9 1083.8 1263.1 C1078.3 1262.3 1059.2 1258.8 1056.1 1257.8 C1053.0 1256.8 1051.2 1256.3 1052.9 1253.5 C1054.6 1250.7 1067.9 1236.3 1073.1 1230.1 C1078.3 1223.9 1099.3 1199.3 1105 1191.9 C1110.7 1184.5 1126.2 1162.4 1130.5 1155.8 C1134.8 1149.2 1144.7 1131.5 1147.5 1126 C1150.3 1120.5 1156.8 1104.1 1158.1 1100.5 C1159.4 1096.9 1160.7 1092.5 1160.2 1089.9 C1159.7 1087.4 1153.2 1076.7 1152.8 1075 Z" fill="#fff" stroke="#000" stroke-width="2.75" />
<path d="M1156 1075 L1183.6 1099.4 L1232.5 1095.8 L1315.4 1079.7" fill="none" stroke="#000" stroke-width="4.75" />
<path d="M1177.2 1104.8 L1232.5 1100.5 L1313.2 1084.6" fill="none" stroke="#000" stroke-width="1.88" />
<path d="M1164.5 1075 L1177.2 1104.8 L1156 1117.5" fill="none" stroke="#000" stroke-width="2.75" />
<path d="M1160.2 1089.9 L1177.2 1104.8" fill="none" stroke="#000" stroke-width="1.88" />
<path d="M1158.1 1109 L1177.2 1109" fill="none" stroke="#000" stroke-width="1.88" />
<path d="M1279.2 1112.2 C1271.4 1113.1 1245.6 1115.2 1232.5 1117.5 C1219.4 1119.8 1211.2 1121.0 1200.6 1126 C1190.0 1131.0 1177.6 1138.7 1168.8 1147.2 C1160.0 1155.7 1155.3 1165.7 1147.5 1177 C1139.7 1188.3 1132.6 1202.5 1122 1215.2 C1111.4 1228.0 1090.2 1247.1 1083.8 1253.5" fill="none" stroke="#000" stroke-width="2.75" />
<path d="M1264.4 1126 C1257.3 1126.3 1234.3 1125.3 1221.9 1128.1 C1209.5 1130.9 1199.6 1135.9 1190 1143 C1180.4 1150.1 1173.0 1160.0 1164.5 1170.6 C1156.0 1181.2 1148.9 1194.4 1139 1206.8 C1129.1 1219.2 1110.7 1238.6 1105 1245" fill="none" stroke="#000" stroke-width="2.75" />
<path d="M1156 1117.5 C1152.5 1124.6 1143.3 1145.8 1134.8 1160 C1126.3 1174.2 1116.0 1187.3 1105 1202.5 C1094.0 1217.7 1074.9 1243.2 1068.9 1251.4" fill="none" stroke="#000" stroke-width="1.88" />
<path d="M1217.6 1160 L1207 1143 L1168.8 1181.2 L1149.6 1204.6 L1119.9 1211" fill="none" stroke="#000" stroke-width="2.75" />
<path d="M1207 1143 L1232.5 1149.4" fill="none" stroke="#000" stroke-width="1.88" />
<path d="M1211.2 1160 L1224 1153.6" fill="none" stroke="#000" stroke-width="2.75" />
<path d="M1202.8 1172.8 L1156 1223.8 L1151.8 1238.6" fill="none" stroke="#000" stroke-width="1.88" />
<path d="M1219.8 1126 L1207 1143" fill="none" stroke="#000" stroke-width="1.88" />
<path d="M1113.5 1220.6 L1139 1215.2 L1151.8 1206.8 L1156 1200.4" fill="none" stroke="#000" stroke-width="2.75" />
<path d="M1147.5 1202.5 L1150.7 1236.5" fill="none" stroke="#000" stroke-width="1.88" />
<path d="M1107.1 1230.1 L1134.8 1223.8 L1149.6 1215.2" fill="none" stroke="#000" stroke-width="1.88" />
<path d="M1073.1 1230.1 L1062.5 1254.6" fill="none" stroke="#000" stroke-width="1.88" />
<path d="M1056.1 1257.8 L1083.8 1255.6 L1111.4 1259.9 L1139 1259.9" fill="none" stroke="#000" stroke-width="2.75" />
<path d="M1083.8 1255.6 L1109.2 1223.8" fill="none" stroke="#000" stroke-width="1.88" />
<path d="M1114.6 1266.2 L1124.1 1268.4 L1109.2 1304.5" fill="none" stroke="#000" stroke-width="1.88" />
<path d="M1103.9 1198.2 L1107.1 1204.6" fill="none" stroke="#000" stroke-width="1.88" />
<path d="M1265.4 1077.5 L1278.2 1075.4 L1278.2 1079.2" fill="none" stroke="#000" stroke-width="3.75" />
<circle cx="1172.6" cy="1055.9" r="4.3" fill="#000"/>
<circle cx="1287.3" cy="1052.7" r="4" fill="#000"/>
<circle cx="1176.2" cy="1245.0" r="4.3" fill="#000"/>
<line x1="1217.6" y1="1029.3" x2="1176.2" y2="1053.8" stroke="#000" stroke-width="1.35"/>
<line x1="1238.9" y1="1029.3" x2="1284.6" y2="1050.6" stroke="#000" stroke-width="1.35"/>
<line x1="1171.9" y1="1060.1" x2="1160.2" y2="1079.2" stroke="#000" stroke-width="1.15" stroke-dasharray="8 2 2 2"/>
<line x1="1286.7" y1="1056.9" x2="1277.1" y2="1076.1" stroke="#000" stroke-width="1.15" stroke-dasharray="8 2 2 2"/>
<line x1="1207.0" y1="1270.5" x2="1178.3" y2="1248.2" stroke="#000" stroke-width="1.35"/>
<line x1="1158.1" y1="1231.2" x2="1174.1" y2="1242.9" stroke="#000" stroke-width="1.15" stroke-dasharray="8 2 2 2"/>
<line x1="1241.0" y1="1234.4" x2="1194.2" y2="1191.9" stroke="#000" stroke-width="1.35"/>
<rect x="1310.5" y="1289.5" width="295" height="107" fill="#fff" stroke="#000" stroke-width="1.3"/>
<text x="1317.5" y="1318" font-size="25" textLength="261" lengthAdjust="spacingAndGlyphs" font-family="'Liberation Sans', Arial, sans-serif" fill="#000" stroke="#000" stroke-width="0.55">Particolari non figuranti</text>
<text x="1356" y="1346.5" font-size="25" textLength="184" lengthAdjust="spacingAndGlyphs" font-family="'Liberation Sans', Arial, sans-serif" fill="#000" stroke="#000" stroke-width="0.55">Not shown parts</text>
<rect x="1380" y="426.5" width="202.5" height="37.5" fill="#fff" stroke="#000" stroke-width="1.2"/>
<text x="1423.3" y="442" font-size="11" textLength="133" lengthAdjust="spacingAndGlyphs" font-family="'Liberation Sans', Arial, sans-serif" fill="#000" stroke="#000" stroke-width="0.3">COMPRESO IN POS.22</text>
<text x="1417.4" y="456.7" font-size="11" textLength="143" lengthAdjust="spacingAndGlyphs" font-family="'Liberation Sans', Arial, sans-serif" fill="#000" stroke="#000" stroke-width="0.3">IS INCLUDED IN POS. 22</text>
<text x="585.5" y="1421.5" font-size="25" textLength="402" lengthAdjust="spacingAndGlyphs" font-family="'Liberation Sans', Arial, sans-serif" fill="#000" stroke="#000" stroke-width="0.3">© Copyright 2023 Betamotor S.p.A.</text>
</g>
<g font-family="'Liberation Sans', Arial, sans-serif" font-size="20" text-anchor="middle" fill="#000">
<circle cx="1117.5" cy="194.5" r="14.5" fill="#fff" stroke="#000" stroke-width="1.45"/>
<text x="1117.5" y="201.7" font-size="20" stroke="#000" stroke-width="0.45">11</text>
<circle cx="1117.5" cy="233.7" r="14.5" fill="#fff" stroke="#000" stroke-width="1.45"/>
<text x="1117.5" y="240.89999999999998" font-size="20" stroke="#000" stroke-width="0.45">18</text>
<circle cx="1117.5" cy="280.5" r="14.5" fill="#fff" stroke="#000" stroke-width="1.45"/>
<text x="1117.5" y="287.7" font-size="20" stroke="#000" stroke-width="0.45">2</text>
<circle cx="816" cy="208.5" r="14.5" fill="#fff" stroke="#000" stroke-width="1.45"/>
<text x="816" y="215.7" font-size="20" stroke="#000" stroke-width="0.45">45</text>
<circle cx="868.7" cy="473.5" r="14.5" fill="#fff" stroke="#000" stroke-width="1.45"/>
<text x="868.7" y="480.7" font-size="20" stroke="#000" stroke-width="0.45">40</text>
<circle cx="1191.5" cy="330.5" r="14.5" fill="#fff" stroke="#000" stroke-width="1.45"/>
<text x="1191.5" y="337.7" font-size="20" stroke="#000" stroke-width="0.45">33</text>
<circle cx="1020.5" cy="447.5" r="14.5" fill="#fff" stroke="#000" stroke-width="1.45"/>
<text x="1020.5" y="454.7" font-size="20" stroke="#000" stroke-width="0.45">30</text>
<circle cx="1173.5" cy="627.5" r="14.5" fill="#fff" stroke="#000" stroke-width="1.45"/>
<text x="1173.5" y="634.7" font-size="20" stroke="#000" stroke-width="0.45">30</text>
<circle cx="1340" cy="474.5" r="14.5" fill="#fff" stroke="#000" stroke-width="1.45"/>
<text x="1340" y="481.7" font-size="20" stroke="#000" stroke-width="0.45">5</text>
<circle cx="1543.5" cy="611" r="14.5" fill="#fff" stroke="#000" stroke-width="1.45"/>
<text x="1543.5" y="618.2" font-size="20" stroke="#000" stroke-width="0.45">33</text>
<circle cx="1508" cy="555.5" r="15" fill="#fff" stroke="#000" stroke-width="1.45"/>
<text x="1508" y="565.5" font-size="17" stroke="#000" stroke-width="0.45">*</text>
<circle cx="1481.5" cy="496.5" r="14.5" fill="#fff" stroke="#000" stroke-width="1.45"/>
<text x="1481.5" y="503.7" font-size="20" stroke="#000" stroke-width="0.45">22</text>
<circle cx="1258" cy="570.5" r="15" fill="#fff" stroke="#000" stroke-width="1.45"/>
<text x="1258" y="580.5" font-size="17" stroke="#000" stroke-width="0.45">*</text>
<circle cx="1282" cy="519" r="14.5" fill="#fff" stroke="#000" stroke-width="1.45"/>
<text x="1282" y="526.2" font-size="20" stroke="#000" stroke-width="0.45">36</text>
<circle cx="1343.5" cy="528.5" r="14.5" fill="#fff" stroke="#000" stroke-width="1.45"/>
<text x="1343.5" y="535.7" font-size="20" stroke="#000" stroke-width="0.45">28</text>
<circle cx="1313.5" cy="541.8" r="14.5" fill="#fff" stroke="#000" stroke-width="1.45"/>
<text x="1313.5" y="549.0" font-size="20" stroke="#000" stroke-width="0.45">29</text>
<circle cx="1410" cy="545" r="14.5" fill="#fff" stroke="#000" stroke-width="1.45"/>
<text x="1410" y="552.2" font-size="20" stroke="#000" stroke-width="0.45">36</text>
<circle cx="1455" cy="709" r="14.5" fill="#fff" stroke="#000" stroke-width="1.45"/>
<text x="1455" y="716.2" font-size="20" stroke="#000" stroke-width="0.45">28</text>
<circle cx="1424.5" cy="722.5" r="14.5" fill="#fff" stroke="#000" stroke-width="1.45"/>
<text x="1424.5" y="729.7" font-size="20" stroke="#000" stroke-width="0.45">41</text>
<circle cx="1395" cy="736.5" r="14.5" fill="#fff" stroke="#000" stroke-width="1.45"/>
<text x="1395" y="743.7" font-size="20" stroke="#000" stroke-width="0.45">29</text>
<circle cx="1448" cy="759.5" r="14.5" fill="#fff" stroke="#000" stroke-width="1.45"/>
<text x="1448" y="766.7" font-size="20" stroke="#000" stroke-width="0.45">26</text>
<circle cx="1482" cy="759.5" r="14.5" fill="#fff" stroke="#000" stroke-width="1.45"/>
<text x="1482" y="766.7" font-size="20" stroke="#000" stroke-width="0.45">49</text>
<circle cx="1373.5" cy="776" r="14.5" fill="#fff" stroke="#000" stroke-width="1.45"/>
<text x="1373.5" y="783.2" font-size="20" stroke="#000" stroke-width="0.45">27</text>
<circle cx="1355.5" cy="803.5" r="14.5" fill="#fff" stroke="#000" stroke-width="1.45"/>
<text x="1355.5" y="810.7" font-size="20" stroke="#000" stroke-width="0.45">35</text>
<circle cx="1473.5" cy="879" r="14.5" fill="#fff" stroke="#000" stroke-width="1.45"/>
<text x="1473.5" y="886.2" font-size="20" stroke="#000" stroke-width="0.45">24</text>
<circle cx="1473.5" cy="914" r="14.5" fill="#fff" stroke="#000" stroke-width="1.45"/>
<text x="1473.5" y="921.2" font-size="20" stroke="#000" stroke-width="0.45">23</text>
<circle cx="817.5" cy="1033" r="14.5" fill="#fff" stroke="#000" stroke-width="1.45"/>
<text x="817.5" y="1040.2" font-size="20" stroke="#000" stroke-width="0.45">1</text>
<circle cx="712" cy="1033" r="14" fill="#fff" stroke="#000" stroke-width="1.45"/>
<text x="712" y="1040.2" font-size="20" stroke="#000" stroke-width="0.45">19</text>
<circle cx="744.5" cy="1033" r="14" fill="#fff" stroke="#000" stroke-width="1.45"/>
<text x="744.5" y="1040.2" font-size="20" stroke="#000" stroke-width="0.45">20</text>
<circle cx="778" cy="1033" r="14" fill="#fff" stroke="#000" stroke-width="1.45"/>
<text x="778" y="1040.2" font-size="20" stroke="#000" stroke-width="0.45">21</text>
<circle cx="1026.2" cy="762.5" r="14.5" fill="#fff" stroke="#000" stroke-width="1.45"/>
<text x="1026.2" y="769.7" font-size="20" stroke="#000" stroke-width="0.45">10</text>
<circle cx="988.7" cy="783.7" r="14.5" fill="#fff" stroke="#000" stroke-width="1.45"/>
<text x="988.7" y="790.9000000000001" font-size="20" stroke="#000" stroke-width="0.45">12</text>
<circle cx="895" cy="710" r="14.5" fill="#fff" stroke="#000" stroke-width="1.45"/>
<text x="895" y="717.2" font-size="20" stroke="#000" stroke-width="0.45">17</text>
<circle cx="923.7" cy="725" r="14.5" fill="#fff" stroke="#000" stroke-width="1.45"/>
<text x="923.7" y="732.2" font-size="20" stroke="#000" stroke-width="0.45">13</text>
<circle cx="891.2" cy="743.7" r="14.5" fill="#fff" stroke="#000" stroke-width="1.45"/>
<text x="891.2" y="750.9000000000001" font-size="20" stroke="#000" stroke-width="0.45">39</text>
<circle cx="852" cy="731.2" r="14.5" fill="#fff" stroke="#000" stroke-width="1.45"/>
<text x="852" y="738.4000000000001" font-size="20" stroke="#000" stroke-width="0.45">44</text>
<circle cx="798.2" cy="783.2" r="14.5" fill="#fff" stroke="#000" stroke-width="1.45"/>
<text x="798.2" y="790.4000000000001" font-size="20" stroke="#000" stroke-width="0.45">16</text>
<circle cx="798.2" cy="815" r="14.5" fill="#fff" stroke="#000" stroke-width="1.45"/>
<text x="798.2" y="822.2" font-size="20" stroke="#000" stroke-width="0.45">15</text>
<circle cx="830.5" cy="821.2" r="14.5" fill="#fff" stroke="#000" stroke-width="1.45"/>
<text x="830.5" y="828.4000000000001" font-size="20" stroke="#000" stroke-width="0.45">14</text>
<circle cx="798" cy="848" r="14.5" fill="#fff" stroke="#000" stroke-width="1.45"/>
<text x="798" y="855.2" font-size="20" stroke="#000" stroke-width="0.45">7</text>
<circle cx="772.5" cy="867.5" r="14.5" fill="#fff" stroke="#000" stroke-width="1.45"/>
<text x="772.5" y="874.7" font-size="20" stroke="#000" stroke-width="0.45">9</text>
<circle cx="798" cy="895" r="14.5" fill="#fff" stroke="#000" stroke-width="1.45"/>
<text x="798" y="902.2" font-size="20" stroke="#000" stroke-width="0.45">8</text>
<circle cx="896.2" cy="842.5" r="14.5" fill="#fff" stroke="#000" stroke-width="1.45"/>
<text x="896.2" y="849.7" font-size="20" stroke="#000" stroke-width="0.45">11</text>
<circle cx="1007.5" cy="830" r="14.5" fill="#fff" stroke="#000" stroke-width="1.45"/>
<text x="1007.5" y="837.2" font-size="20" stroke="#000" stroke-width="0.45">32</text>
<circle cx="1112.5" cy="813.7" r="14.5" fill="#fff" stroke="#000" stroke-width="1.45"/>
<text x="1112.5" y="820.9000000000001" font-size="20" stroke="#000" stroke-width="0.45">7</text>
<circle cx="1136.2" cy="838.7" r="14.5" fill="#fff" stroke="#000" stroke-width="1.45"/>
<text x="1136.2" y="845.9000000000001" font-size="20" stroke="#000" stroke-width="0.45">9</text>
<circle cx="1112.5" cy="863.7" r="14.5" fill="#fff" stroke="#000" stroke-width="1.45"/>
<text x="1112.5" y="870.9000000000001" font-size="20" stroke="#000" stroke-width="0.45">8</text>
<circle cx="788.7" cy="1256.2" r="14.5" fill="#fff" stroke="#000" stroke-width="1.45"/>
<text x="788.7" y="1263.4" font-size="20" stroke="#000" stroke-width="0.45">48</text>
<circle cx="878.3" cy="1125" r="14.5" fill="#fff" stroke="#000" stroke-width="1.45"/>
<text x="878.3" y="1132.2" font-size="20" stroke="#000" stroke-width="0.45">50</text>
<circle cx="890" cy="1256.2" r="14.5" fill="#fff" stroke="#000" stroke-width="1.45"/>
<text x="890" y="1263.4" font-size="20" stroke="#000" stroke-width="0.45">43</text>
<circle cx="990" cy="1229" r="14.5" fill="#fff" stroke="#000" stroke-width="1.45"/>
<text x="990" y="1236.2" font-size="20" stroke="#000" stroke-width="0.45">27</text>
<circle cx="990" cy="1283.7" r="14.5" fill="#fff" stroke="#000" stroke-width="1.45"/>
<text x="990" y="1290.9" font-size="20" stroke="#000" stroke-width="0.45">42</text>
<circle cx="990" cy="1148.7" r="14.5" fill="#fff" stroke="#000" stroke-width="1.45"/>
<text x="990" y="1155.9" font-size="20" stroke="#000" stroke-width="0.45">19</text>
<circle cx="1025" cy="1167.5" r="14.5" fill="#fff" stroke="#000" stroke-width="1.45"/>
<text x="1025" y="1174.7" font-size="20" stroke="#000" stroke-width="0.45">20</text>
<circle cx="1057.5" cy="1186.2" r="14.5" fill="#fff" stroke="#000" stroke-width="1.45"/>
<text x="1057.5" y="1193.4" font-size="20" stroke="#000" stroke-width="0.45">21</text>
<circle cx="830" cy="607" r="14.5" fill="#fff" stroke="#000" stroke-width="1.45"/>
<text x="830" y="614.2" font-size="20" stroke="#000" stroke-width="0.45">33</text>
<circle cx="633.2" cy="657.5" r="14.5" fill="#fff" stroke="#000" stroke-width="1.45"/>
<text x="633.2" y="664.7" font-size="20" stroke="#000" stroke-width="0.45">6</text>
<circle cx="636.2" cy="832.5" r="14.5" fill="#fff" stroke="#000" stroke-width="1.45"/>
<text x="636.2" y="839.7" font-size="20" stroke="#000" stroke-width="0.45">33</text>
<circle cx="241.2" cy="741.2" r="14.5" fill="#fff" stroke="#000" stroke-width="1.45"/>
<text x="241.2" y="748.4000000000001" font-size="20" stroke="#000" stroke-width="0.45">46</text>
<circle cx="275" cy="741.2" r="14.5" fill="#fff" stroke="#000" stroke-width="1.45"/>
<text x="275" y="748.4000000000001" font-size="20" stroke="#000" stroke-width="0.45">47</text>
<circle cx="307" cy="741.2" r="14.5" fill="#fff" stroke="#000" stroke-width="1.45"/>
<text x="307" y="748.4000000000001" font-size="20" stroke="#000" stroke-width="0.45">3</text>
<circle cx="507" cy="837.5" r="14.5" fill="#fff" stroke="#000" stroke-width="1.45"/>
<text x="507" y="844.7" font-size="20" stroke="#000" stroke-width="0.45">31</text>
<circle cx="538.7" cy="837.5" r="14.5" fill="#fff" stroke="#000" stroke-width="1.45"/>
<text x="538.7" y="844.7" font-size="20" stroke="#000" stroke-width="0.45">34</text>
<circle cx="547.5" cy="897.5" r="14.5" fill="#fff" stroke="#000" stroke-width="1.45"/>
<text x="547.5" y="904.7" font-size="20" stroke="#000" stroke-width="0.45">47</text>
<circle cx="579.5" cy="897.5" r="14.5" fill="#fff" stroke="#000" stroke-width="1.45"/>
<text x="579.5" y="904.7" font-size="20" stroke="#000" stroke-width="0.45">46</text>
<circle cx="303.2" cy="1164.4" r="14.5" fill="#fff" stroke="#000" stroke-width="1.45"/>
<text x="303.2" y="1171.6000000000001" font-size="20" stroke="#000" stroke-width="0.45">30</text>
<circle cx="359.7" cy="1152.6" r="14.5" fill="#fff" stroke="#000" stroke-width="1.45"/>
<text x="359.7" y="1159.8" font-size="20" stroke="#000" stroke-width="0.45">38</text>
<circle cx="393.3" cy="1152.6" r="14.5" fill="#fff" stroke="#000" stroke-width="1.45"/>
<text x="393.3" y="1159.8" font-size="20" stroke="#000" stroke-width="0.45">41</text>
<circle cx="184.6" cy="1232.7" r="14.5" fill="#fff" stroke="#000" stroke-width="1.45"/>
<text x="184.6" y="1239.9" font-size="20" stroke="#000" stroke-width="0.45">25</text>
<circle cx="210.9" cy="983.3" r="14.5" fill="#fff" stroke="#000" stroke-width="1.45"/>
<text x="210.9" y="990.5" font-size="20" stroke="#000" stroke-width="0.45">4</text>
<circle cx="412" cy="1347.6" r="14.5" fill="#fff" stroke="#000" stroke-width="1.45"/>
<text x="412" y="1354.8" font-size="20" stroke="#000" stroke-width="0.45">33</text>
<circle cx="564" cy="1233.6" r="14.5" fill="#fff" stroke="#000" stroke-width="1.45"/>
<text x="564" y="1240.8" font-size="20" stroke="#000" stroke-width="0.45">38</text>
<circle cx="116.8" cy="1002.5" r="14.5" fill="#fff" stroke="#000" stroke-width="1.45"/>
<text x="116.8" y="1009.7" font-size="20" stroke="#000" stroke-width="0.45">33</text>
<circle cx="23.4" cy="853.3" r="14.5" fill="#fff" stroke="#000" stroke-width="1.45"/>
<text x="23.4" y="860.5" font-size="20" stroke="#000" stroke-width="0.45">38</text>
<circle cx="31.6" cy="1144.1" r="14.5" fill="#fff" stroke="#000" stroke-width="1.45"/>
<text x="31.6" y="1151.3" font-size="20" stroke="#000" stroke-width="0.45">25</text>
<circle cx="1228.2" cy="1018.7" r="14.5" fill="#fff" stroke="#000" stroke-width="1.45"/>
<text x="1228.2" y="1025.9" font-size="20" stroke="#000" stroke-width="0.45">33</text>
<circle cx="1215.9" cy="1282.2" r="14.5" fill="#fff" stroke="#000" stroke-width="1.45"/>
<text x="1215.9" y="1289.4" font-size="20" stroke="#000" stroke-width="0.45">33</text>
<circle cx="1251.2" cy="1243.9" r="14.5" fill="#fff" stroke="#000" stroke-width="1.45"/>
<text x="1251.2" y="1251.1000000000001" font-size="20" stroke="#000" stroke-width="0.45">6</text>
<circle cx="1455.6" cy="1374" r="15.3" fill="#fff" stroke="#000" stroke-width="1.45"/>
<text x="1455.6" y="1381.2" font-size="20" stroke="#000" stroke-width="0.45">37</text>
<circle cx="1399" cy="445" r="15.5" fill="#fff" stroke="#000" stroke-width="1.45"/>
<text x="1399" y="455" font-size="17" stroke="#000" stroke-width="0.45">*</text>
</g>
<g style="mix-blend-mode:multiply"><rect x="350" y="600" width="950" height="470" fill="url(#dots)" mask="url(#wm)"/></g>
</svg>
</body></html>
